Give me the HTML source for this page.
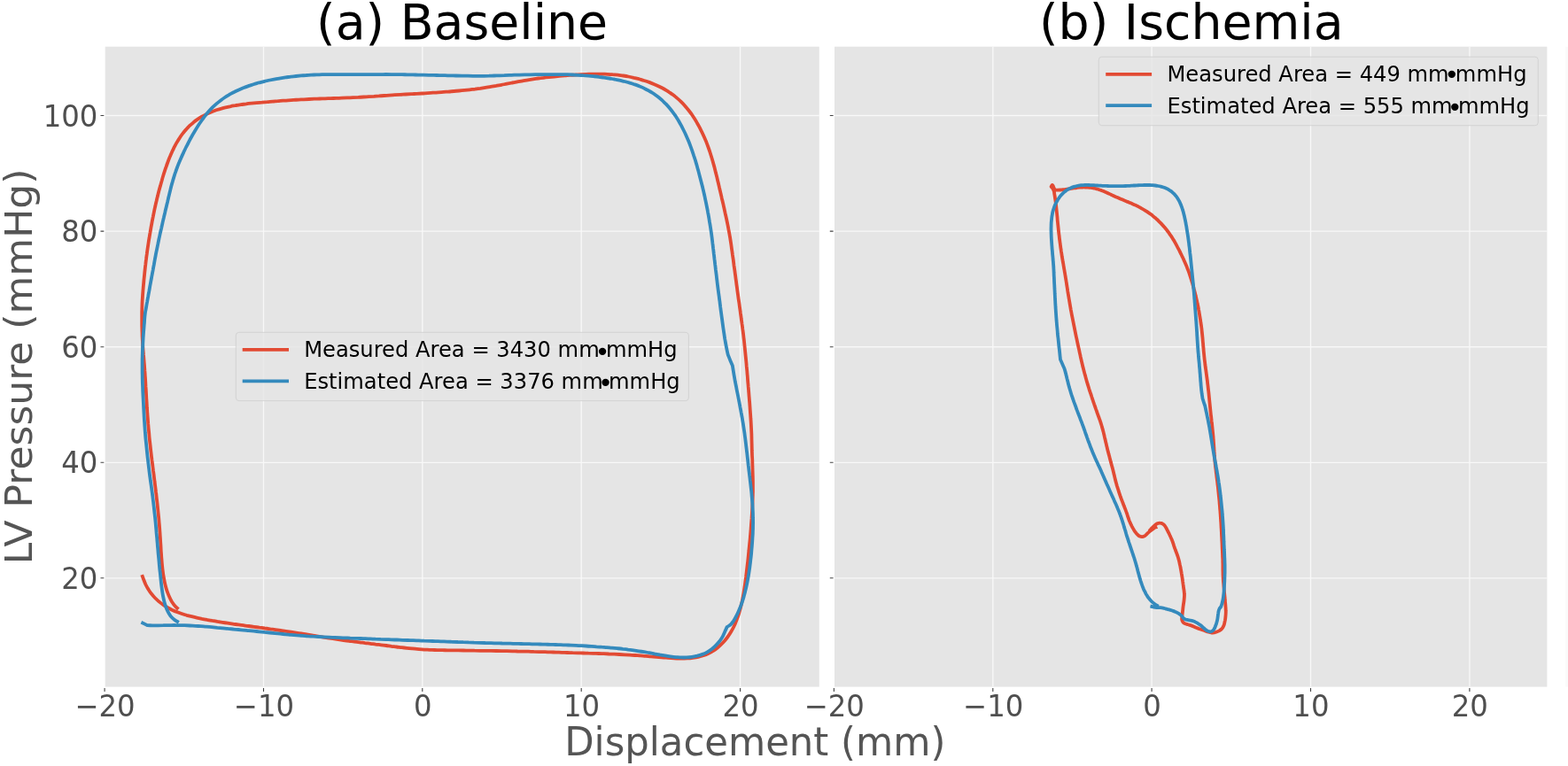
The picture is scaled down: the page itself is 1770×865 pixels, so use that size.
<!DOCTYPE html>
<html lang="en">
<head>
<meta charset="utf-8">
<title>LV pressure-displacement loops</title>
<style>
html,body{margin:0;padding:0;background:#fff;}
body{width:1770px;height:865px;overflow:hidden;}
svg{display:block;}
text{font-family:"DejaVu Sans","Liberation Sans",sans-serif;}
.tk{font-size:34.2px;fill:#4f4f4f;}
.lg{font-size:24.2px;fill:#000;}
.tt{font-size:55.3px;fill:#000;}
.lb{font-size:43.3px;fill:#555;}
</style>
</head>
<body>
<svg width="1770" height="865" viewBox="0 0 1770 865">
<rect width="1770" height="865" fill="#fff"/>
<rect x="1767.3" y="52.7" width="2.7" height="722.9" fill="#fafafa"/>
<rect x="118.7" y="52.7" width="806.1" height="722.9" fill="#E5E5E5"/>
<path d="M297.5 52.7V775.6M476.8 52.7V775.6M656.2 52.7V775.6M835.6 52.7V775.6M118.7 652.8H924.8M118.7 522.3H924.8M118.7 391.7H924.8M118.7 261.1H924.8M118.7 130.5H924.8" stroke="#f8f8f8" stroke-width="1.35" fill="none"/>
<path d="M118.1 777.1v3.8M297.5 777.1v3.8M476.8 777.1v3.8M656.2 777.1v3.8M835.6 777.1v3.8M117.3 652.8h-3.8M117.3 522.3h-3.8M117.3 391.7h-3.8M117.3 261.1h-3.8M117.3 130.5h-3.8" stroke="#444" stroke-width="1.1" fill="none"/>
<text class="tk" transform="translate(118.5 809.0) scale(0.945 1)" text-anchor="middle">−20</text>
<text class="tk" transform="translate(297.9 809.0) scale(0.945 1)" text-anchor="middle">−10</text>
<text class="tk" transform="translate(477.2 809.0) scale(0.945 1)" text-anchor="middle">0</text>
<text class="tk" transform="translate(656.6 809.0) scale(0.945 1)" text-anchor="middle">10</text>
<text class="tk" transform="translate(836.0 809.0) scale(0.945 1)" text-anchor="middle">20</text>
<text class="tk" transform="translate(110.4 664.9) scale(0.945 1)" text-anchor="end">20</text>
<text class="tk" transform="translate(110.4 534.4) scale(0.945 1)" text-anchor="end">40</text>
<text class="tk" transform="translate(110.4 403.8) scale(0.945 1)" text-anchor="end">60</text>
<text class="tk" transform="translate(110.4 273.2) scale(0.945 1)" text-anchor="end">80</text>
<text class="tk" transform="translate(110.4 142.6) scale(0.945 1)" text-anchor="end">100</text>
<rect x="942.0" y="52.7" width="804.4" height="722.9" fill="#E5E5E5"/>
<path d="M1120.8 52.7V775.6M1300.1 52.7V775.6M1479.5 52.7V775.6M1658.9 52.7V775.6M942.0 652.8H1746.4M942.0 522.3H1746.4M942.0 391.7H1746.4M942.0 261.1H1746.4M942.0 130.5H1746.4" stroke="#f8f8f8" stroke-width="1.35" fill="none"/>
<path d="M941.4 777.1v3.8M1120.8 777.1v3.8M1300.1 777.1v3.8M1479.5 777.1v3.8M1658.9 777.1v3.8M940.6 652.8h-3.8M940.6 522.3h-3.8M940.6 391.7h-3.8M940.6 261.1h-3.8M940.6 130.5h-3.8" stroke="#444" stroke-width="1.1" fill="none"/>
<text class="tk" transform="translate(941.8 809.0) scale(0.945 1)" text-anchor="middle">−20</text>
<text class="tk" transform="translate(1121.2 809.0) scale(0.945 1)" text-anchor="middle">−10</text>
<text class="tk" transform="translate(1300.5 809.0) scale(0.945 1)" text-anchor="middle">0</text>
<text class="tk" transform="translate(1479.9 809.0) scale(0.945 1)" text-anchor="middle">10</text>
<text class="tk" transform="translate(1659.3 809.0) scale(0.945 1)" text-anchor="middle">20</text>
<path d="M160.2 649.1C160.5 650.0 161.4 652.4 162.1 654.3C162.8 656.1 163.6 658.2 164.4 660.0C165.3 661.9 166.3 663.7 167.4 665.4C168.4 667.2 169.6 668.9 170.9 670.4C172.1 672.0 173.4 673.6 174.8 675.0C176.2 676.4 177.7 677.8 179.2 679.1C180.7 680.4 182.3 681.6 183.9 682.7C185.5 683.9 187.2 684.9 188.9 685.9C190.6 686.9 192.3 687.8 194.1 688.7C195.9 689.5 197.7 690.3 199.5 691.0C201.3 691.7 203.2 692.4 205.0 693.0C206.9 693.7 208.8 694.2 210.7 694.8C212.6 695.3 214.5 695.8 216.4 696.2C218.3 696.7 220.3 697.2 222.2 697.6C224.1 698.0 226.0 698.4 228.0 698.8C229.9 699.1 231.8 699.5 233.7 699.9C235.6 700.2 237.6 700.5 239.5 700.9C241.4 701.2 243.3 701.5 245.3 701.9C247.2 702.2 249.2 702.5 251.1 702.8C253.1 703.1 255.0 703.4 257.0 703.7C259.0 704.0 260.9 704.3 262.9 704.6C264.9 704.9 266.9 705.1 268.9 705.4C270.9 705.7 272.9 706.0 274.9 706.2C276.9 706.5 278.8 706.8 280.8 707.0C282.8 707.3 284.8 707.6 286.8 707.8C288.8 708.1 290.8 708.4 292.8 708.7C294.8 708.9 296.8 709.2 298.8 709.5C300.8 709.7 302.8 710.0 304.8 710.3C306.8 710.6 308.8 710.8 310.7 711.1C312.7 711.4 314.7 711.7 316.7 712.0C318.7 712.3 320.6 712.5 322.6 712.8C324.6 713.1 326.6 713.4 328.5 713.7C330.5 714.0 332.5 714.3 334.4 714.6C336.4 714.9 338.3 715.2 340.3 715.5C342.2 715.8 344.1 716.2 346.1 716.5C348.0 716.8 349.9 717.1 351.9 717.4C353.8 717.7 355.8 718.1 357.7 718.4C359.7 718.7 361.7 719.0 363.6 719.3C365.6 719.6 367.6 720.0 369.6 720.3C371.6 720.6 373.6 720.9 375.7 721.2C377.7 721.5 379.7 721.8 381.8 722.1C383.8 722.4 385.9 722.7 387.9 723.0C389.9 723.3 392.0 723.6 394.0 723.8C396.0 724.1 398.0 724.3 400.0 724.6C402.1 724.9 404.1 725.1 406.1 725.3C408.1 725.6 410.1 725.8 412.1 726.1C414.1 726.3 416.1 726.6 418.1 726.8C420.1 727.1 422.1 727.3 424.1 727.6C426.2 727.8 428.2 728.1 430.2 728.3C432.2 728.6 434.1 728.8 436.1 729.0C438.0 729.3 440.0 729.5 441.9 729.8C443.8 730.0 445.7 730.3 447.7 730.5C449.6 730.7 451.5 731.0 453.4 731.2C455.3 731.4 457.3 731.6 459.2 731.8C461.1 732.0 463.0 732.2 464.9 732.4C466.9 732.6 468.8 732.8 470.7 732.9C472.6 733.1 474.5 733.2 476.4 733.3C478.4 733.5 480.3 733.6 482.2 733.7C484.0 733.8 485.9 733.8 487.8 733.9C489.7 734.0 491.6 734.0 493.5 734.1C495.4 734.1 497.3 734.2 499.3 734.2C501.2 734.2 503.1 734.3 505.1 734.3C507.0 734.3 509.0 734.3 511.0 734.4C513.0 734.4 515.0 734.4 517.1 734.4C519.1 734.5 521.2 734.5 523.2 734.5C525.3 734.5 527.4 734.6 529.5 734.6C531.5 734.6 533.6 734.6 535.7 734.7C537.8 734.7 539.8 734.7 541.9 734.8C544.0 734.8 546.1 734.8 548.1 734.8C550.2 734.9 552.2 734.9 554.2 734.9C556.3 735.0 558.3 735.0 560.3 735.0C562.3 735.1 564.3 735.1 566.3 735.1C568.3 735.2 570.4 735.2 572.4 735.2C574.4 735.3 576.3 735.3 578.3 735.3C580.3 735.4 582.2 735.4 584.2 735.5C586.3 735.5 588.3 735.6 590.3 735.6C592.4 735.6 594.4 735.7 596.4 735.7C598.5 735.8 600.5 735.8 602.6 735.9C604.6 735.9 606.7 736.0 608.8 736.1C610.9 736.1 613.0 736.2 615.1 736.2C617.2 736.3 619.3 736.3 621.5 736.4C623.6 736.5 625.7 736.5 627.8 736.6C629.9 736.7 632.0 736.7 634.1 736.8C636.2 736.9 638.3 736.9 640.3 737.0C642.4 737.1 644.4 737.1 646.4 737.2C648.5 737.2 650.5 737.3 652.5 737.4C654.5 737.4 656.4 737.5 658.4 737.5C660.3 737.6 662.3 737.6 664.2 737.7C666.2 737.7 668.1 737.8 670.0 737.9C672.0 737.9 673.9 738.0 675.8 738.0C677.7 738.1 679.6 738.2 681.6 738.2C683.5 738.3 685.4 738.4 687.4 738.5C689.3 738.5 691.3 738.6 693.3 738.7C695.2 738.8 697.2 738.9 699.2 739.0C701.2 739.1 703.2 739.2 705.1 739.3C707.1 739.4 709.1 739.5 711.1 739.6C713.1 739.8 715.1 739.9 717.0 740.0C719.0 740.1 721.0 740.3 723.0 740.4C724.9 740.5 726.9 740.7 728.9 740.8C730.9 741.0 732.9 741.1 734.9 741.3C736.9 741.4 738.9 741.6 740.9 741.8C742.9 741.9 745.0 742.1 746.8 742.3C748.6 742.4 749.9 742.6 751.7 742.7C753.6 742.8 755.7 743.0 757.8 743.2C759.8 743.3 761.8 743.4 763.8 743.5C765.8 743.6 767.9 743.6 769.9 743.6C771.9 743.6 774.0 743.5 776.0 743.4C778.1 743.3 780.1 743.1 782.1 742.8C784.1 742.5 786.1 742.2 788.1 741.8C790.1 741.3 792.0 740.8 793.9 740.2C795.8 739.6 797.7 738.9 799.5 738.0C801.3 737.2 803.1 736.2 804.8 735.2C806.4 734.1 808.1 732.9 809.6 731.7C811.2 730.4 812.7 729.1 814.1 727.7C815.6 726.3 817.0 724.8 818.3 723.3C819.6 721.7 820.9 720.1 822.0 718.4C823.2 716.8 824.3 715.0 825.3 713.3C826.3 711.6 827.3 709.8 828.2 708.0C829.1 706.2 829.9 704.3 830.6 702.5C831.4 700.7 832.1 698.8 832.7 697.0C833.4 695.1 834.0 693.3 834.5 691.4C835.1 689.6 835.6 687.7 836.1 685.8C836.6 683.9 837.0 682.1 837.4 680.2C837.8 678.3 838.2 676.4 838.6 674.5C838.9 672.6 839.3 670.6 839.6 668.7C839.9 666.8 840.2 664.9 840.5 662.9C840.8 661.0 841.1 659.0 841.3 657.1C841.6 655.1 841.8 653.2 842.1 651.2C842.3 649.2 842.6 647.3 842.8 645.3C843.0 643.3 843.3 641.3 843.5 639.3C843.7 637.3 844.0 635.3 844.2 633.4C844.4 631.4 844.6 629.4 844.8 627.4C845.0 625.4 845.2 623.4 845.4 621.4C845.6 619.4 845.8 617.4 846.0 615.5C846.2 613.5 846.4 611.5 846.6 609.5C846.8 607.5 846.9 605.6 847.1 603.6C847.3 601.6 847.4 599.6 847.6 597.6C847.7 595.6 847.9 593.7 848.0 591.7C848.2 589.7 848.3 587.7 848.5 585.7C848.6 583.7 848.8 581.7 848.9 579.7C849.0 577.8 849.1 575.8 849.2 573.8C849.3 571.8 849.4 569.8 849.5 567.8C849.6 565.8 849.7 563.8 849.7 561.8C849.8 559.9 849.8 557.9 849.9 555.9C849.9 553.9 849.9 551.9 849.9 549.9C849.9 547.9 849.9 546.0 849.9 544.0C849.9 542.0 849.8 540.0 849.8 538.0C849.7 536.1 849.7 534.1 849.6 532.1C849.6 530.1 849.5 528.1 849.4 526.2C849.4 524.2 849.3 522.2 849.3 520.2C849.2 518.3 849.1 516.3 849.0 514.3C849.0 512.4 848.9 510.4 848.8 508.4C848.8 506.5 848.7 504.5 848.7 502.5C848.6 500.5 848.6 498.5 848.5 496.5C848.5 494.5 848.4 492.5 848.4 490.5C848.3 488.5 848.2 486.5 848.1 484.5C848.0 482.5 847.9 480.5 847.8 478.5C847.7 476.5 847.6 474.5 847.4 472.5C847.3 470.5 847.2 468.6 847.0 466.6C846.9 464.6 846.7 462.6 846.6 460.6C846.5 458.7 846.3 456.7 846.2 454.7C846.0 452.7 845.8 450.7 845.7 448.8C845.5 446.8 845.4 444.8 845.2 442.8C845.1 440.8 844.9 438.9 844.7 436.9C844.6 434.9 844.4 432.9 844.2 431.0C844.1 429.0 843.9 427.0 843.8 425.0C843.6 423.1 843.4 421.1 843.3 419.1C843.1 417.1 842.9 415.2 842.7 413.2C842.6 411.2 842.4 409.2 842.2 407.3C842.0 405.3 841.8 403.3 841.6 401.3C841.4 399.3 841.2 397.3 841.0 395.3C840.8 393.3 840.6 391.4 840.4 389.4C840.2 387.4 840.0 385.4 839.8 383.4C839.5 381.4 839.3 379.4 839.1 377.4C838.8 375.4 838.6 373.4 838.3 371.5C838.1 369.5 837.8 367.5 837.5 365.5C837.3 363.6 837.0 361.6 836.7 359.6C836.5 357.6 836.2 355.7 835.9 353.7C835.7 351.7 835.4 349.8 835.1 347.8C834.8 345.8 834.6 343.8 834.3 341.8C834.0 339.8 833.7 337.9 833.4 335.9C833.2 333.9 832.9 331.9 832.6 329.9C832.3 327.9 832.1 325.9 831.8 323.9C831.5 321.9 831.2 319.8 831.0 317.8C830.7 315.8 830.4 313.8 830.2 311.8C829.9 309.8 829.6 307.8 829.4 305.8C829.1 303.8 828.8 301.7 828.5 299.7C828.3 297.7 828.0 295.7 827.8 293.8C827.5 291.8 827.2 289.8 826.9 287.8C826.7 285.9 826.4 283.9 826.1 282.0C825.8 280.0 825.6 278.0 825.3 276.0C825.0 274.1 824.7 272.1 824.4 270.1C824.1 268.1 823.7 266.2 823.4 264.3C823.1 262.3 822.7 260.4 822.3 258.4C822.0 256.5 821.6 254.6 821.2 252.6C820.8 250.7 820.4 248.8 820.0 246.9C819.6 245.0 819.2 243.1 818.7 241.2C818.3 239.3 817.9 237.4 817.5 235.5C817.0 233.5 816.6 231.6 816.2 229.7C815.7 227.8 815.3 225.8 814.8 223.9C814.4 221.9 813.9 220.0 813.5 218.1C813.0 216.1 812.6 214.2 812.1 212.2C811.7 210.3 811.2 208.4 810.8 206.4C810.3 204.5 809.8 202.6 809.4 200.6C808.9 198.7 808.4 196.8 807.9 194.8C807.5 192.9 807.0 191.0 806.5 189.0C806.0 187.1 805.4 185.2 804.9 183.3C804.4 181.3 803.8 179.4 803.2 177.5C802.6 175.6 802.0 173.7 801.4 171.8C800.8 169.8 800.1 167.9 799.4 166.0C798.7 164.1 798.0 162.2 797.3 160.3C796.5 158.4 795.7 156.6 794.9 154.7C794.1 152.9 793.3 151.1 792.4 149.3C791.5 147.5 790.6 145.7 789.7 143.9C788.8 142.2 787.8 140.4 786.8 138.7C785.8 136.9 784.8 135.2 783.7 133.5C782.6 131.8 781.5 130.2 780.4 128.5C779.2 126.9 778.0 125.3 776.7 123.7C775.5 122.2 774.2 120.7 772.9 119.2C771.6 117.7 770.2 116.3 768.8 114.9C767.4 113.5 766.0 112.2 764.4 110.9C762.9 109.6 761.3 108.3 759.7 107.1C758.1 105.9 756.4 104.8 754.8 103.7C753.1 102.6 751.3 101.5 749.6 100.5C747.8 99.5 746.0 98.6 744.2 97.7C742.3 96.8 740.5 96.0 738.6 95.2C736.7 94.4 734.8 93.6 732.9 92.9C730.9 92.2 729.0 91.6 727.1 91.0C725.1 90.3 723.2 89.8 721.3 89.2C719.3 88.7 717.3 88.2 715.4 87.8C713.4 87.3 711.4 86.9 709.4 86.5C707.5 86.1 705.5 85.8 703.5 85.5C701.5 85.2 699.5 85.0 697.5 84.7C695.5 84.5 693.5 84.3 691.5 84.2C689.6 84.0 687.6 83.9 685.6 83.8C683.6 83.7 681.5 83.7 679.5 83.6C677.5 83.6 675.5 83.6 673.5 83.6C671.5 83.6 669.5 83.6 667.5 83.7C665.5 83.7 663.5 83.8 661.5 83.8C659.5 83.9 657.5 84.0 655.5 84.1C653.5 84.2 651.5 84.3 649.5 84.5C647.5 84.6 645.5 84.7 643.5 84.9C641.5 85.0 639.5 85.2 637.5 85.3C635.5 85.5 633.5 85.7 631.5 85.9C629.6 86.1 627.6 86.3 625.6 86.5C623.6 86.7 621.6 86.9 619.6 87.1C617.7 87.3 615.7 87.5 613.7 87.8C611.7 88.0 609.7 88.2 607.7 88.5C605.7 88.8 603.8 89.1 601.8 89.4C599.8 89.7 597.8 90.0 595.8 90.3C593.8 90.6 591.8 91.0 589.9 91.3C587.9 91.7 585.9 92.0 583.9 92.4C581.9 92.8 579.9 93.2 578.0 93.5C576.0 93.9 574.0 94.3 572.1 94.7C570.1 95.1 568.1 95.4 566.1 95.8C564.1 96.2 562.1 96.5 560.1 96.9C558.1 97.2 556.1 97.6 554.1 97.9C552.1 98.2 550.1 98.6 548.1 98.9C546.1 99.2 544.2 99.5 542.2 99.8C540.2 100.0 538.2 100.3 536.2 100.6C534.2 100.8 532.2 101.1 530.2 101.3C528.3 101.5 526.3 101.7 524.3 101.9C522.3 102.1 520.3 102.3 518.3 102.5C516.4 102.7 514.4 102.9 512.4 103.0C510.5 103.2 508.5 103.3 506.6 103.5C504.6 103.6 502.6 103.8 500.7 103.9C498.7 104.1 496.7 104.2 494.7 104.3C492.7 104.5 490.7 104.6 488.7 104.7C486.7 104.9 484.7 105.0 482.7 105.1C480.7 105.2 478.6 105.4 476.6 105.5C474.5 105.6 472.4 105.7 470.3 105.8C468.3 105.9 466.2 106.1 464.1 106.2C462.1 106.3 460.0 106.4 457.9 106.5C455.8 106.6 453.8 106.8 451.7 106.9C449.6 107.0 447.6 107.1 445.6 107.2C443.5 107.4 441.5 107.5 439.5 107.6C437.5 107.7 435.5 107.9 433.6 108.0C431.7 108.1 429.8 108.2 427.8 108.4C425.9 108.5 424.0 108.6 422.1 108.8C420.1 108.9 418.1 109.0 416.2 109.1C414.2 109.3 412.3 109.4 410.4 109.5C408.4 109.6 406.4 109.7 404.4 109.9C402.4 110.0 400.4 110.1 398.4 110.2C396.3 110.3 394.3 110.3 392.2 110.4C390.1 110.5 388.0 110.6 385.9 110.7C383.8 110.8 381.7 110.8 379.6 110.9C377.5 111.0 375.4 111.0 373.3 111.1C371.2 111.2 369.1 111.2 367.1 111.3C365.0 111.4 362.9 111.4 360.9 111.5C358.8 111.6 356.8 111.6 354.8 111.7C352.8 111.8 350.8 111.9 348.8 112.0C346.8 112.1 344.8 112.2 342.9 112.3C340.9 112.4 339.0 112.5 337.0 112.6C335.1 112.7 333.1 112.8 331.2 112.9C329.2 113.1 327.3 113.2 325.3 113.3C323.4 113.5 321.5 113.6 319.5 113.7C317.6 113.9 315.6 114.0 313.6 114.2C311.6 114.3 309.7 114.5 307.7 114.6C305.7 114.8 303.7 114.9 301.7 115.1C299.7 115.2 297.7 115.4 295.7 115.6C293.7 115.7 291.7 115.9 289.7 116.1C287.8 116.3 285.8 116.5 283.8 116.7C281.8 116.9 279.9 117.1 277.9 117.4C276.0 117.6 273.9 117.9 272.0 118.1C270.0 118.4 268.2 118.7 266.2 119.0C264.3 119.4 262.2 119.7 260.5 120.1C258.7 120.4 257.4 120.7 255.7 121.1C253.9 121.5 251.8 122.0 249.9 122.6C248.0 123.1 246.1 123.7 244.2 124.3C242.3 125.0 240.4 125.7 238.5 126.5C236.7 127.2 234.8 128.0 233.1 128.9C231.3 129.8 229.5 130.7 227.8 131.7C226.1 132.7 224.4 133.8 222.8 134.9C221.2 136.0 219.7 137.1 218.2 138.4C216.7 139.6 215.2 140.9 213.8 142.2C212.5 143.6 211.1 145.0 209.9 146.4C208.6 147.8 207.4 149.3 206.2 150.9C205.0 152.4 203.9 154.0 202.9 155.6C201.8 157.2 200.8 158.9 199.8 160.6C198.8 162.2 197.9 164.0 197.0 165.7C196.1 167.4 195.3 169.2 194.4 170.9C193.6 172.7 192.8 174.5 192.1 176.3C191.3 178.1 190.6 179.9 189.9 181.7C189.2 183.6 188.6 185.4 187.9 187.3C187.3 189.1 186.6 191.0 186.0 192.9C185.4 194.7 184.8 196.6 184.2 198.5C183.6 200.4 183.1 202.3 182.6 204.2C182.0 206.1 181.5 208.0 181.0 209.9C180.4 211.8 179.9 213.7 179.4 215.6C178.9 217.5 178.4 219.4 178.0 221.3C177.5 223.2 177.0 225.1 176.6 227.0C176.1 228.9 175.7 230.9 175.3 232.8C174.8 234.7 174.4 236.7 174.0 238.7C173.6 240.6 173.2 242.6 172.8 244.6C172.4 246.6 172.0 248.6 171.6 250.6C171.3 252.6 170.9 254.6 170.5 256.6C170.2 258.6 169.8 260.6 169.5 262.6C169.1 264.7 168.8 266.7 168.5 268.7C168.1 270.7 167.8 272.7 167.5 274.7C167.2 276.7 166.9 278.8 166.6 280.8C166.3 282.8 166.0 284.8 165.8 286.8C165.5 288.8 165.2 290.8 165.0 292.8C164.7 294.8 164.5 296.8 164.3 298.8C164.0 300.8 163.8 302.8 163.6 304.8C163.4 306.8 163.2 308.7 163.0 310.7C162.8 312.7 162.6 314.6 162.4 316.6C162.3 318.5 162.1 320.5 161.9 322.4C161.7 324.4 161.6 326.4 161.4 328.3C161.3 330.3 161.1 332.2 161.0 334.2C160.9 336.2 160.7 338.2 160.6 340.2C160.5 342.1 160.4 344.1 160.4 346.2C160.3 348.2 160.3 350.2 160.2 352.2C160.2 354.2 160.2 356.3 160.2 358.3C160.2 360.3 160.2 362.3 160.2 364.3C160.2 366.3 160.2 368.3 160.3 370.3C160.3 372.4 160.4 374.4 160.5 376.4C160.5 378.4 160.6 380.5 160.7 382.5C160.9 384.5 161.0 386.6 161.1 388.6C161.2 390.6 161.4 392.6 161.5 394.6C161.7 396.7 161.9 398.7 162.0 400.7C162.2 402.7 162.3 404.7 162.5 406.7C162.6 408.7 162.8 410.7 163.0 412.7C163.1 414.7 163.3 416.7 163.4 418.7C163.6 420.7 163.7 422.6 163.8 424.6C164.0 426.5 164.1 428.5 164.2 430.5C164.3 432.4 164.4 434.4 164.5 436.4C164.7 438.4 164.8 440.4 164.9 442.4C165.0 444.4 165.1 446.4 165.2 448.4C165.3 450.4 165.5 452.4 165.6 454.4C165.7 456.4 165.8 458.4 165.9 460.3C166.1 462.3 166.2 464.3 166.3 466.3C166.5 468.3 166.6 470.2 166.8 472.2C166.9 474.2 167.1 476.2 167.2 478.2C167.4 480.1 167.5 482.1 167.7 484.1C167.9 486.1 168.1 488.0 168.3 490.0C168.4 492.0 168.6 494.0 168.8 495.9C169.0 497.9 169.3 499.9 169.5 501.9C169.7 503.8 169.9 505.8 170.1 507.8C170.3 509.8 170.6 511.7 170.8 513.7C171.0 515.7 171.3 517.7 171.5 519.7C171.8 521.6 172.0 523.6 172.3 525.6C172.5 527.6 172.8 529.5 173.0 531.5C173.3 533.4 173.5 535.4 173.8 537.4C174.0 539.4 174.3 541.4 174.5 543.4C174.8 545.4 175.0 547.4 175.3 549.5C175.5 551.5 175.8 553.5 176.0 555.5C176.3 557.5 176.5 559.5 176.7 561.5C176.9 563.5 177.2 565.4 177.4 567.4C177.6 569.3 177.8 571.3 178.0 573.2C178.2 575.2 178.4 577.2 178.6 579.1C178.8 581.1 179.0 583.0 179.2 585.0C179.4 587.0 179.5 589.0 179.7 590.9C179.9 592.9 180.0 594.9 180.2 596.9C180.3 598.9 180.5 600.9 180.6 602.9C180.7 604.9 180.9 606.9 181.0 608.9C181.1 610.9 181.2 612.9 181.4 614.9C181.5 616.9 181.6 618.9 181.7 620.9C181.8 622.9 182.0 624.9 182.1 626.9C182.2 628.9 182.4 631.0 182.6 633.0C182.7 635.0 182.9 637.0 183.1 639.1C183.3 641.1 183.5 643.1 183.8 645.1C184.0 647.1 184.3 649.2 184.7 651.1C185.0 653.1 185.4 655.1 185.8 657.1C186.2 659.1 186.7 661.0 187.2 663.0C187.7 664.9 188.3 666.8 189.0 668.6C189.7 670.5 190.4 672.3 191.3 674.2C192.1 676.0 193.0 677.8 194.0 679.5C195.1 681.2 196.2 682.9 197.5 684.3C198.7 685.7 200.8 687.3 201.5 687.9" stroke="#E24A33" fill="none" stroke-width="3.8" stroke-linejoin="round" stroke-linecap="butt"/>
<path d="M159.4 702.8C160.5 703.3 165.1 705.5 166.2 706.1C167.2 706.1 169.9 706.3 171.9 706.4C173.9 706.4 176.1 706.3 178.2 706.3C180.3 706.2 182.3 706.2 184.3 706.2C186.4 706.1 188.4 706.1 190.4 706.1C192.4 706.1 194.4 706.0 196.4 706.0C198.4 706.0 200.4 706.1 202.4 706.1C204.4 706.1 206.4 706.2 208.4 706.2C210.5 706.3 212.5 706.4 214.5 706.5C216.6 706.6 218.6 706.7 220.7 706.8C222.7 706.9 224.8 707.1 226.8 707.2C228.9 707.4 230.9 707.5 233.0 707.7C235.0 707.9 237.1 708.1 239.1 708.2C241.2 708.4 243.2 708.6 245.2 708.8C247.3 709.0 249.3 709.2 251.3 709.4C253.3 709.6 255.3 709.8 257.3 709.9C259.3 710.1 261.3 710.3 263.2 710.5C265.2 710.7 267.1 710.9 269.1 711.0C271.1 711.2 273.0 711.4 275.0 711.6C276.9 711.8 278.9 711.9 280.9 712.1C282.8 712.3 284.8 712.5 286.8 712.7C288.7 712.9 290.7 713.1 292.6 713.3C294.6 713.5 296.6 713.7 298.5 713.9C300.5 714.1 302.5 714.3 304.4 714.5C306.4 714.7 308.4 714.9 310.4 715.1C312.3 715.3 314.3 715.5 316.4 715.7C318.4 715.9 320.4 716.1 322.4 716.3C324.5 716.5 326.5 716.6 328.6 716.8C330.7 717.0 332.8 717.2 334.9 717.4C337.0 717.5 339.2 717.7 341.3 717.8C343.4 718.0 345.6 718.1 347.6 718.3C349.7 718.4 351.7 718.5 353.7 718.7C355.7 718.8 357.7 718.9 359.7 719.0C361.7 719.1 363.7 719.2 365.6 719.3C367.6 719.4 369.6 719.5 371.6 719.6C373.6 719.7 375.7 719.8 377.7 719.8C379.6 719.9 381.6 720.0 383.6 720.1C385.6 720.2 387.5 720.3 389.5 720.3C391.4 720.4 393.4 720.5 395.3 720.6C397.2 720.6 399.1 720.7 401.0 720.8C402.9 720.9 404.8 720.9 406.7 721.0C408.6 721.1 410.4 721.2 412.3 721.2C414.2 721.3 416.1 721.4 418.0 721.4C419.9 721.5 421.9 721.6 423.8 721.7C425.8 721.7 427.7 721.8 429.7 721.9C431.7 721.9 433.7 722.0 435.7 722.1C437.7 722.2 439.8 722.2 441.8 722.3C443.9 722.4 445.9 722.5 448.0 722.5C450.0 722.6 452.1 722.7 454.1 722.8C456.2 722.8 458.3 722.9 460.3 723.0C462.4 723.1 464.4 723.1 466.5 723.2C468.5 723.3 470.6 723.4 472.6 723.4C474.7 723.5 476.7 723.6 478.8 723.7C480.9 723.7 483.0 723.8 485.1 723.9C487.2 724.0 489.3 724.0 491.4 724.1C493.5 724.2 495.4 724.2 497.6 724.3C499.8 724.4 502.5 724.5 504.7 724.6C506.9 724.6 508.8 724.7 510.8 724.8C512.8 724.8 514.8 724.9 516.8 725.0C518.8 725.0 520.8 725.1 522.9 725.2C524.9 725.2 526.9 725.3 529.0 725.4C531.0 725.4 533.1 725.5 535.1 725.6C537.2 725.6 539.3 725.7 541.4 725.8C543.5 725.8 545.6 725.9 547.7 726.0C549.8 726.0 552.0 726.1 554.1 726.1C556.3 726.2 558.4 726.3 560.5 726.3C562.6 726.4 564.7 726.4 566.8 726.5C568.9 726.5 570.9 726.6 573.0 726.6C575.0 726.7 577.0 726.7 579.1 726.8C581.1 726.8 583.1 726.9 585.2 726.9C587.2 727.0 589.3 727.0 591.3 727.1C593.4 727.1 595.5 727.2 597.5 727.2C599.5 727.3 601.6 727.3 603.6 727.4C605.6 727.4 607.6 727.5 609.6 727.5C611.5 727.6 613.5 727.6 615.5 727.7C617.5 727.7 619.4 727.8 621.4 727.8C623.3 727.9 625.2 727.9 627.2 728.0C629.1 728.1 631.0 728.1 633.0 728.2C634.9 728.3 636.8 728.3 638.8 728.4C640.7 728.5 642.6 728.5 644.5 728.6C646.5 728.7 648.4 728.8 650.3 728.9C652.2 729.0 654.2 729.1 656.1 729.2C658.0 729.3 659.9 729.4 661.8 729.5C663.8 729.7 665.7 729.8 667.6 729.9C669.5 730.0 671.5 730.1 673.4 730.3C675.3 730.4 677.2 730.5 679.2 730.7C681.1 730.8 683.0 731.0 685.0 731.1C686.9 731.3 688.9 731.4 690.8 731.6C692.8 731.8 694.9 732.0 696.9 732.2C698.9 732.4 701.0 732.6 703.0 732.9C705.1 733.1 707.1 733.3 709.1 733.6C711.1 733.8 713.1 734.1 715.1 734.4C717.1 734.7 719.1 735.0 721.1 735.3C723.1 735.6 725.0 735.9 727.0 736.2C729.0 736.5 731.0 736.9 732.9 737.2C734.9 737.5 736.9 737.9 738.9 738.3C740.8 738.6 742.8 739.0 744.8 739.4C746.7 739.7 748.7 740.1 750.7 740.4C752.7 740.8 754.8 741.1 756.8 741.3C758.8 741.6 760.9 741.9 762.9 742.1C764.9 742.2 766.9 742.4 769.0 742.4C771.0 742.5 773.0 742.5 775.0 742.4C777.0 742.3 779.0 742.1 781.0 741.8C783.0 741.5 785.0 741.1 787.0 740.7C788.9 740.2 790.9 739.6 792.8 738.9C794.7 738.2 796.6 737.3 798.4 736.3C800.2 735.3 801.8 734.2 803.4 733.0C805.0 731.7 806.5 730.4 808.0 728.9C809.4 727.5 810.8 725.9 812.1 724.3C813.3 722.7 814.6 720.9 815.6 719.1C816.6 717.3 817.4 715.2 818.2 713.4C819.1 711.6 820.2 709.0 820.6 708.1C821.3 707.6 824.0 705.9 824.7 705.4C825.3 704.7 827.0 702.7 828.1 701.1C829.1 699.5 830.1 697.7 831.0 695.9C832.0 694.1 832.8 692.3 833.6 690.5C834.4 688.7 835.2 686.8 835.9 685.0C836.6 683.1 837.3 681.3 837.9 679.4C838.6 677.5 839.1 675.6 839.7 673.6C840.2 671.7 840.8 669.8 841.2 667.8C841.7 665.9 842.2 664.0 842.6 662.0C843.0 660.0 843.4 658.1 843.8 656.1C844.2 654.1 844.5 652.2 844.9 650.2C845.2 648.2 845.5 646.2 845.8 644.2C846.1 642.3 846.4 640.3 846.6 638.3C846.9 636.3 847.1 634.3 847.3 632.3C847.6 630.4 847.8 628.4 848.0 626.4C848.2 624.4 848.3 622.4 848.5 620.4C848.7 618.4 848.9 616.5 849.0 614.5C849.2 612.5 849.3 610.5 849.4 608.5C849.5 606.6 849.7 604.6 849.8 602.6C849.8 600.6 849.9 598.6 850.0 596.6C850.0 594.6 850.0 592.7 850.1 590.7C850.1 588.7 850.1 586.7 850.0 584.7C850.0 582.7 850.0 580.7 849.9 578.7C849.8 576.8 849.7 574.8 849.6 572.8C849.5 570.8 849.4 568.8 849.2 566.8C849.1 564.8 848.9 562.8 848.7 560.8C848.6 558.9 848.4 556.9 848.2 554.9C848.0 552.9 847.7 550.9 847.5 548.9C847.3 547.0 847.1 545.0 846.8 543.0C846.6 541.0 846.4 539.0 846.1 537.0C845.9 535.1 845.7 533.1 845.4 531.1C845.2 529.1 845.0 527.1 844.7 525.2C844.5 523.2 844.3 521.2 844.1 519.3C843.8 517.3 843.6 515.3 843.4 513.3C843.2 511.4 842.9 509.4 842.7 507.4C842.5 505.4 842.2 503.4 842.0 501.4C841.8 499.4 841.5 497.5 841.3 495.5C841.0 493.5 840.7 491.5 840.5 489.4C840.2 487.4 839.9 485.5 839.6 483.5C839.3 481.5 839.0 479.5 838.7 477.5C838.3 475.5 838.0 473.5 837.7 471.5C837.3 469.6 837.0 467.6 836.6 465.6C836.3 463.7 835.9 461.7 835.5 459.8C835.2 457.8 834.8 455.9 834.4 453.9C834.0 452.0 833.7 450.0 833.3 448.1C832.9 446.2 832.5 444.2 832.1 442.3C831.7 440.4 831.3 438.4 831.0 436.5C830.6 434.6 830.2 432.6 829.8 430.7C829.5 428.7 829.1 426.8 828.8 424.8C828.4 422.8 828.1 420.7 827.8 418.8C827.5 416.8 827.0 413.9 826.9 412.9C826.5 412.0 825.4 409.5 824.5 407.4C823.6 405.3 822.2 401.6 821.7 400.4C821.5 399.5 820.9 396.8 820.5 394.9C820.1 392.9 819.7 390.7 819.3 388.7C818.9 386.6 818.6 384.6 818.2 382.6C817.9 380.5 817.6 378.5 817.3 376.5C817.0 374.5 816.7 372.5 816.4 370.5C816.1 368.5 815.9 366.6 815.6 364.6C815.3 362.6 815.1 360.6 814.8 358.6C814.5 356.7 814.3 354.7 814.0 352.7C813.7 350.7 813.5 348.7 813.2 346.8C813.0 344.8 812.7 342.8 812.5 340.8C812.2 338.8 811.9 336.8 811.7 334.8C811.4 332.9 811.2 330.9 810.9 328.9C810.6 326.9 810.4 324.9 810.1 322.9C809.9 320.9 809.6 318.9 809.4 316.9C809.1 314.9 808.9 312.9 808.7 310.9C808.4 308.9 808.2 306.8 807.9 304.8C807.7 302.8 807.5 300.8 807.2 298.8C807.0 296.8 806.8 294.8 806.5 292.8C806.3 290.8 806.1 288.8 805.8 286.8C805.6 284.8 805.4 282.8 805.1 280.8C804.9 278.8 804.7 276.8 804.4 274.8C804.2 272.7 803.9 270.7 803.7 268.7C803.4 266.7 803.2 264.7 802.9 262.7C802.6 260.8 802.3 258.8 802.0 256.8C801.7 254.8 801.4 252.9 801.0 250.9C800.7 249.0 800.4 247.0 800.1 245.1C799.7 243.2 799.4 241.2 799.0 239.3C798.7 237.4 798.3 235.4 797.9 233.5C797.5 231.6 797.1 229.7 796.7 227.7C796.3 225.8 795.9 223.8 795.5 221.9C795.1 220.0 794.6 218.0 794.2 216.1C793.7 214.2 793.3 212.3 792.8 210.3C792.3 208.4 791.8 206.5 791.3 204.6C790.8 202.6 790.3 200.7 789.8 198.8C789.3 196.8 788.8 194.9 788.3 192.9C787.7 191.0 787.2 189.1 786.7 187.1C786.1 185.2 785.5 183.3 785.0 181.3C784.4 179.4 783.8 177.5 783.1 175.6C782.5 173.7 781.9 171.7 781.2 169.8C780.5 167.9 779.8 166.0 779.1 164.1C778.4 162.2 777.6 160.3 776.9 158.5C776.1 156.6 775.3 154.7 774.5 152.9C773.7 151.1 772.8 149.3 771.9 147.5C771.0 145.7 770.1 143.9 769.2 142.1C768.2 140.3 767.2 138.6 766.2 136.8C765.2 135.1 764.2 133.4 763.1 131.7C762.0 130.0 760.8 128.4 759.6 126.8C758.4 125.2 757.1 123.6 755.8 122.0C754.5 120.4 753.1 118.9 751.7 117.4C750.2 116.0 748.8 114.6 747.3 113.2C745.8 111.8 744.2 110.5 742.7 109.3C741.1 108.1 739.5 106.9 737.9 105.8C736.2 104.7 734.6 103.6 732.8 102.7C731.1 101.7 729.3 100.7 727.5 99.9C725.8 99.0 724.0 98.2 722.1 97.5C720.3 96.7 718.4 96.0 716.5 95.4C714.7 94.7 712.8 94.1 710.9 93.6C709.0 93.0 707.0 92.5 705.1 92.0C703.2 91.6 701.2 91.1 699.3 90.7C697.4 90.3 695.4 89.9 693.5 89.5C691.6 89.2 689.6 88.8 687.7 88.5C685.8 88.2 683.8 87.9 681.9 87.6C680.0 87.4 678.0 87.1 676.1 86.9C674.1 86.6 672.1 86.4 670.2 86.2C668.2 86.0 666.3 85.8 664.3 85.7C662.3 85.5 660.3 85.3 658.3 85.2C656.4 85.0 654.4 84.9 652.4 84.8C650.4 84.7 648.4 84.6 646.4 84.5C644.4 84.4 642.4 84.3 640.4 84.2C638.4 84.2 636.5 84.2 634.5 84.1C632.6 84.1 630.7 84.2 628.7 84.2C626.8 84.2 624.7 84.2 622.7 84.1C620.7 84.1 618.7 84.1 616.7 84.1C614.6 84.1 612.6 84.1 610.5 84.1C608.5 84.2 606.4 84.2 604.4 84.2C602.4 84.2 600.3 84.2 598.3 84.3C596.3 84.3 594.3 84.4 592.3 84.4C590.3 84.4 588.3 84.5 586.4 84.6C584.4 84.6 582.5 84.7 580.6 84.7C578.7 84.8 576.8 84.9 574.9 84.9C573.0 85.0 571.1 85.1 569.2 85.2C567.3 85.2 565.5 85.3 563.6 85.4C561.7 85.4 559.8 85.5 557.9 85.5C555.9 85.6 554.0 85.6 552.0 85.7C550.1 85.7 548.1 85.7 546.1 85.8C544.2 85.8 542.2 85.8 540.2 85.8C538.2 85.8 536.2 85.8 534.1 85.8C532.1 85.8 530.1 85.8 528.0 85.7C526.0 85.7 524.1 85.7 521.8 85.6C519.6 85.6 516.9 85.6 514.6 85.5C512.4 85.5 510.5 85.4 508.4 85.4C506.4 85.3 504.3 85.3 502.2 85.2C500.1 85.2 498.0 85.1 496.0 85.1C493.9 85.0 491.9 85.0 489.9 84.9C487.9 84.9 486.0 84.9 484.0 84.8C482.0 84.8 480.1 84.8 478.1 84.7C476.1 84.7 474.1 84.6 472.1 84.6C470.1 84.5 468.2 84.5 466.1 84.4C464.1 84.4 462.1 84.3 460.0 84.3C458.0 84.3 455.9 84.2 453.9 84.2C451.8 84.2 449.7 84.1 447.7 84.1C445.6 84.1 443.6 84.1 441.6 84.1C439.6 84.0 437.5 84.0 435.5 84.0C433.5 84.0 431.4 84.1 429.4 84.1C427.4 84.1 425.5 84.1 423.5 84.1C421.5 84.1 419.5 84.1 417.5 84.1C415.5 84.2 413.6 84.2 411.6 84.2C409.6 84.2 407.6 84.2 405.6 84.2C403.6 84.2 401.6 84.2 399.7 84.2C397.7 84.2 395.7 84.1 393.7 84.1C391.7 84.1 389.7 84.1 387.7 84.1C385.7 84.1 383.7 84.1 381.7 84.1C379.6 84.1 377.6 84.1 375.6 84.1C373.5 84.1 371.5 84.1 369.5 84.1C367.5 84.2 365.5 84.2 363.5 84.2C361.5 84.3 359.5 84.3 357.5 84.4C355.5 84.5 353.5 84.5 351.5 84.6C349.6 84.7 347.6 84.8 345.7 85.0C343.7 85.1 341.8 85.2 339.9 85.4C337.9 85.6 336.0 85.8 334.1 86.0C332.2 86.2 330.2 86.4 328.3 86.6C326.3 86.9 324.4 87.1 322.4 87.4C320.5 87.7 318.5 88.0 316.5 88.3C314.5 88.6 312.6 89.0 310.6 89.3C308.6 89.7 306.6 90.1 304.6 90.5C302.6 90.9 300.6 91.4 298.7 91.8C296.7 92.3 294.7 92.8 292.7 93.3C290.8 93.9 288.7 94.4 286.8 95.0C284.8 95.6 282.9 96.3 281.0 96.9C279.1 97.6 277.1 98.3 275.2 99.1C273.4 99.8 271.5 100.6 269.6 101.4C267.8 102.2 265.9 103.1 264.2 104.0C262.4 104.9 260.6 105.9 258.9 106.8C257.2 107.8 255.5 108.9 253.8 110.0C252.2 111.0 250.6 112.2 249.0 113.4C247.4 114.6 245.9 115.8 244.4 117.1C242.9 118.4 241.4 119.8 240.0 121.2C238.6 122.6 237.2 124.1 235.9 125.6C234.6 127.1 233.3 128.6 232.0 130.2C230.8 131.8 229.6 133.4 228.4 135.0C227.2 136.7 226.1 138.3 224.9 140.0C223.8 141.7 222.7 143.4 221.7 145.1C220.6 146.9 219.6 148.6 218.5 150.4C217.5 152.2 216.5 153.9 215.5 155.7C214.6 157.5 213.6 159.3 212.7 161.1C211.8 162.9 210.8 164.7 209.9 166.5C209.0 168.3 208.2 170.1 207.3 171.9C206.5 173.7 205.6 175.5 204.8 177.4C204.0 179.2 203.2 181.0 202.5 182.8C201.7 184.6 201.0 186.5 200.3 188.3C199.6 190.2 198.9 192.0 198.3 193.9C197.6 195.7 197.0 197.6 196.5 199.4C195.9 201.3 195.3 203.2 194.8 205.1C194.2 207.0 193.7 208.9 193.2 210.8C192.7 212.7 192.3 214.6 191.8 216.5C191.3 218.4 190.9 220.3 190.4 222.2C190.0 224.2 189.5 226.1 189.1 228.0C188.6 229.9 188.1 231.9 187.7 233.8C187.2 235.8 186.7 237.7 186.3 239.7C185.8 241.7 185.3 243.7 184.9 245.7C184.4 247.6 184.0 249.6 183.5 251.6C183.1 253.6 182.6 255.6 182.2 257.6C181.7 259.6 181.3 261.5 180.8 263.5C180.4 265.5 180.0 267.5 179.5 269.5C179.1 271.4 178.7 273.4 178.3 275.4C177.9 277.4 177.5 279.3 177.1 281.3C176.7 283.2 176.3 285.2 175.9 287.1C175.6 289.1 175.2 291.1 174.8 293.0C174.5 295.0 174.1 296.9 173.8 298.9C173.4 300.8 173.0 302.8 172.7 304.8C172.3 306.7 172.0 308.7 171.6 310.6C171.2 312.6 170.9 314.6 170.5 316.5C170.2 318.5 169.8 320.5 169.4 322.5C169.1 324.4 168.7 326.4 168.4 328.4C168.0 330.4 167.6 332.4 167.3 334.4C166.9 336.4 166.5 338.4 166.2 340.5C165.8 342.5 165.4 344.7 165.1 346.6C164.8 348.5 164.3 350.9 164.1 351.8C164.0 352.8 163.6 355.7 163.4 357.7C163.2 359.7 163.1 361.8 163.0 363.8C162.8 365.8 162.6 367.9 162.5 369.9C162.3 371.9 162.2 373.9 162.0 375.9C161.9 377.9 161.7 379.9 161.6 381.9C161.5 383.9 161.4 385.9 161.3 387.9C161.2 389.8 161.1 391.8 161.0 393.8C160.9 395.8 160.8 397.8 160.8 399.7C160.7 401.7 160.7 403.7 160.6 405.7C160.6 407.6 160.6 409.6 160.6 411.6C160.6 413.6 160.6 415.5 160.6 417.5C160.6 419.5 160.6 421.5 160.7 423.5C160.7 425.4 160.7 427.4 160.8 429.4C160.8 431.4 160.9 433.4 161.0 435.4C161.1 437.4 161.2 439.4 161.2 441.4C161.3 443.4 161.4 445.4 161.5 447.4C161.6 449.4 161.7 451.4 161.8 453.4C161.9 455.4 162.0 457.4 162.1 459.3C162.2 461.3 162.3 463.3 162.4 465.3C162.5 467.3 162.6 469.2 162.7 471.2C162.8 473.2 162.9 475.2 163.1 477.2C163.2 479.1 163.3 481.1 163.5 483.1C163.6 485.1 163.8 487.0 163.9 489.0C164.1 491.0 164.2 493.0 164.4 495.0C164.6 496.9 164.8 498.9 165.0 500.9C165.2 502.9 165.4 504.8 165.6 506.8C165.8 508.8 166.0 510.7 166.2 512.7C166.4 514.7 166.6 516.7 166.9 518.7C167.1 520.6 167.3 522.6 167.6 524.6C167.8 526.6 168.0 528.5 168.3 530.5C168.5 532.5 168.8 534.4 169.0 536.4C169.3 538.4 169.6 540.4 169.8 542.4C170.1 544.4 170.4 546.4 170.7 548.4C171.0 550.5 171.2 552.5 171.5 554.5C171.8 556.5 172.0 558.5 172.3 560.5C172.5 562.5 172.8 564.4 173.0 566.4C173.2 568.4 173.4 570.3 173.7 572.3C173.9 574.2 174.1 576.2 174.3 578.1C174.6 580.1 174.8 582.1 175.0 584.0C175.2 586.0 175.4 588.0 175.6 590.0C175.8 592.0 175.9 593.9 176.1 595.9C176.3 597.9 176.5 599.9 176.6 601.9C176.8 603.9 177.0 605.9 177.2 607.9C177.3 609.9 177.5 611.9 177.7 613.9C177.8 615.9 178.0 617.9 178.2 619.9C178.4 621.9 178.5 623.9 178.7 625.9C178.9 627.9 179.1 629.9 179.3 631.9C179.5 633.9 179.7 635.9 179.8 637.9C180.0 639.9 180.2 641.9 180.4 644.0C180.7 646.0 180.9 648.0 181.1 650.0C181.3 652.1 181.5 654.1 181.7 656.1C181.9 658.1 182.1 660.2 182.4 662.2C182.7 664.2 182.9 666.2 183.2 668.1C183.5 670.1 183.8 672.1 184.2 674.0C184.6 675.9 185.0 677.8 185.5 679.7C186.0 681.6 186.5 683.5 187.2 685.3C187.9 687.2 188.6 689.0 189.5 690.7C190.4 692.5 191.4 694.2 192.6 695.7C193.9 697.2 195.3 698.5 196.8 699.7C198.3 700.9 201.0 702.3 201.8 702.8" stroke="#348ABD" fill="none" stroke-width="3.8" stroke-linejoin="round" stroke-linecap="butt"/>
<path d="M1297.3 599.6C1297.6 599.2 1298.7 598.2 1299.3 597.4C1300.0 596.7 1300.6 596.0 1301.3 595.3C1302.0 594.6 1302.7 593.8 1303.5 593.2C1304.3 592.5 1305.2 591.8 1306.2 591.3C1307.2 590.9 1308.4 590.6 1309.5 590.7C1310.6 590.7 1311.7 591.1 1312.6 591.7C1313.5 592.2 1314.3 593.0 1315.0 593.9C1315.6 594.7 1316.1 595.6 1316.6 596.5C1317.1 597.4 1317.5 598.3 1317.9 599.2C1318.4 600.1 1318.8 600.9 1319.3 601.8C1319.7 602.7 1320.2 603.7 1320.6 604.6C1321.1 605.5 1321.5 606.4 1321.9 607.4C1322.3 608.3 1322.7 609.3 1323.1 610.2C1323.5 611.2 1323.8 612.2 1324.2 613.2C1324.5 614.2 1324.8 615.1 1325.1 616.1C1325.4 617.0 1325.7 617.9 1326.0 618.8C1326.3 619.7 1326.7 620.6 1327.0 621.5C1327.3 622.3 1327.7 623.2 1328.0 624.1C1328.3 625.0 1328.7 625.9 1329.0 626.8C1329.3 627.7 1329.6 628.6 1329.9 629.5C1330.2 630.5 1330.4 631.4 1330.7 632.4C1330.9 633.3 1331.2 634.3 1331.4 635.3C1331.6 636.3 1331.8 637.3 1332.0 638.2C1332.3 639.2 1332.5 640.2 1332.6 641.2C1332.8 642.3 1333.0 643.3 1333.2 644.3C1333.4 645.3 1333.6 646.3 1333.7 647.3C1333.9 648.4 1334.1 649.4 1334.2 650.4C1334.4 651.4 1334.5 652.4 1334.7 653.5C1334.8 654.5 1335.0 655.5 1335.1 656.5C1335.3 657.5 1335.4 658.5 1335.5 659.5C1335.7 660.5 1335.8 661.5 1335.9 662.5C1336.0 663.4 1336.2 664.4 1336.3 665.4C1336.5 666.3 1336.6 667.2 1336.7 668.2C1336.8 669.1 1336.9 670.0 1336.9 670.9C1337.0 671.8 1337.0 672.7 1336.9 673.6C1336.9 674.5 1336.8 675.5 1336.7 676.4C1336.6 677.4 1336.5 678.4 1336.4 679.4C1336.2 680.4 1336.1 681.4 1335.9 682.5C1335.8 683.5 1335.6 684.5 1335.5 685.5C1335.4 686.5 1335.3 687.5 1335.2 688.5C1335.1 689.4 1335.0 690.4 1334.9 691.3C1334.8 692.2 1334.7 693.1 1334.6 694.1C1334.5 695.0 1334.3 696.0 1334.2 696.9C1334.1 697.9 1334.0 699.0 1334.2 699.9C1334.4 700.8 1334.8 701.7 1335.3 702.4C1335.9 703.1 1336.7 703.7 1337.5 704.1C1338.3 704.5 1339.1 704.7 1339.9 704.9C1340.7 705.2 1341.5 705.3 1342.3 705.6C1343.1 705.8 1343.9 706.1 1344.8 706.4C1345.6 706.7 1346.5 707.1 1347.4 707.5C1348.3 707.9 1349.2 708.4 1350.2 708.8C1351.2 709.2 1352.2 709.5 1353.2 709.9C1354.2 710.3 1355.3 710.6 1356.3 711.0C1357.3 711.3 1358.3 711.7 1359.3 712.0C1360.3 712.4 1361.3 712.8 1362.3 713.1C1363.3 713.4 1364.2 713.8 1365.1 714.0C1366.1 714.3 1366.9 714.4 1367.9 714.5C1368.8 714.5 1369.7 714.4 1370.7 714.3C1371.6 714.1 1372.6 713.8 1373.5 713.5C1374.4 713.2 1375.3 712.9 1376.2 712.4C1377.0 711.9 1377.8 711.4 1378.5 710.8C1379.2 710.1 1379.9 709.3 1380.4 708.5C1380.9 707.7 1381.2 706.9 1381.6 706.0C1381.9 705.1 1382.1 704.2 1382.3 703.3C1382.5 702.3 1382.7 701.2 1382.9 700.5C1383.0 699.7 1383.1 699.3 1383.2 698.5C1383.3 697.7 1383.4 696.5 1383.5 695.5C1383.6 694.5 1383.7 693.5 1383.7 692.5C1383.8 691.5 1383.8 690.4 1383.7 689.4C1383.7 688.4 1383.6 687.4 1383.6 686.4C1383.5 685.4 1383.4 684.4 1383.4 683.4C1383.3 682.3 1383.2 681.4 1383.1 680.4C1383.0 679.4 1382.9 678.4 1382.8 677.4C1382.8 676.4 1382.7 675.4 1382.6 674.5C1382.5 673.5 1382.4 672.5 1382.3 671.5C1382.2 670.5 1382.1 669.5 1382.0 668.5C1381.9 667.5 1381.8 666.5 1381.7 665.6C1381.6 664.6 1381.5 663.6 1381.4 662.5C1381.4 661.5 1381.3 660.5 1381.2 659.5C1381.1 658.5 1381.0 657.5 1380.9 656.5C1380.9 655.5 1380.8 654.4 1380.7 653.4C1380.7 652.4 1380.6 651.4 1380.6 650.4C1380.5 649.4 1380.5 648.3 1380.5 647.3C1380.5 646.3 1380.5 645.3 1380.4 644.3C1380.4 643.2 1380.4 642.2 1380.4 641.2C1380.4 640.1 1380.4 639.1 1380.4 638.0C1380.4 637.0 1380.4 635.9 1380.3 634.9C1380.3 633.9 1380.3 632.8 1380.3 631.8C1380.2 630.7 1380.2 629.7 1380.1 628.7C1380.1 627.7 1380.1 626.6 1380.0 625.6C1380.0 624.6 1379.9 623.6 1379.9 622.5C1379.8 621.5 1379.8 620.5 1379.7 619.5C1379.7 618.5 1379.6 617.5 1379.6 616.4C1379.6 615.4 1379.5 614.4 1379.5 613.4C1379.4 612.4 1379.4 611.4 1379.3 610.4C1379.3 609.3 1379.2 608.3 1379.2 607.3C1379.1 606.3 1379.1 605.3 1379.0 604.3C1379.0 603.3 1378.9 602.3 1378.9 601.3C1378.8 600.3 1378.8 599.3 1378.7 598.3C1378.7 597.3 1378.6 596.3 1378.5 595.3C1378.5 594.3 1378.4 593.3 1378.4 592.3C1378.3 591.3 1378.3 590.3 1378.2 589.3C1378.1 588.3 1378.1 587.3 1378.0 586.3C1377.9 585.3 1377.9 584.3 1377.8 583.3C1377.7 582.2 1377.7 581.2 1377.6 580.2C1377.5 579.2 1377.4 578.2 1377.4 577.2C1377.3 576.2 1377.2 575.2 1377.1 574.2C1377.0 573.2 1377.0 572.2 1376.9 571.2C1376.8 570.2 1376.7 569.3 1376.6 568.3C1376.6 567.3 1376.5 566.3 1376.4 565.4C1376.3 564.4 1376.2 563.4 1376.1 562.4C1376.0 561.4 1375.9 560.4 1375.8 559.5C1375.7 558.5 1375.6 557.5 1375.5 556.5C1375.4 555.5 1375.3 554.5 1375.2 553.5C1375.1 552.5 1375.0 551.5 1374.9 550.5C1374.8 549.5 1374.7 548.5 1374.5 547.5C1374.4 546.5 1374.3 545.5 1374.2 544.5C1374.1 543.6 1373.9 542.6 1373.8 541.6C1373.7 540.6 1373.6 539.6 1373.4 538.6C1373.3 537.6 1373.2 536.6 1373.1 535.6C1373.0 534.6 1372.8 533.6 1372.7 532.6C1372.6 531.6 1372.5 530.6 1372.4 529.6C1372.2 528.7 1372.1 527.7 1372.0 526.7C1371.9 525.7 1371.8 524.7 1371.7 523.7C1371.6 522.7 1371.5 521.7 1371.4 520.7C1371.3 519.7 1371.3 518.7 1371.2 517.7C1371.1 516.7 1371.0 515.8 1370.9 514.8C1370.9 513.8 1370.8 512.8 1370.7 511.8C1370.7 510.8 1370.6 509.8 1370.5 508.8C1370.5 507.8 1370.4 506.8 1370.4 505.8C1370.3 504.8 1370.2 503.8 1370.2 502.8C1370.1 501.8 1370.0 500.9 1370.0 499.9C1369.9 498.9 1369.8 497.9 1369.8 496.9C1369.7 495.9 1369.6 494.9 1369.5 493.9C1369.5 492.9 1369.4 491.9 1369.3 490.9C1369.2 489.9 1369.1 488.9 1369.0 487.9C1368.9 486.9 1368.8 485.9 1368.7 484.9C1368.6 483.9 1368.5 482.9 1368.4 481.9C1368.3 480.9 1368.2 479.8 1368.1 478.8C1368.0 477.8 1367.9 476.8 1367.7 475.8C1367.6 474.8 1367.5 473.8 1367.4 472.8C1367.3 471.8 1367.2 470.8 1367.1 469.8C1366.9 468.8 1366.8 467.8 1366.7 466.7C1366.6 465.7 1366.5 464.7 1366.4 463.7C1366.3 462.7 1366.2 461.7 1366.1 460.7C1366.0 459.7 1365.9 458.7 1365.8 457.7C1365.7 456.6 1365.6 455.6 1365.5 454.6C1365.4 453.6 1365.3 452.6 1365.2 451.6C1365.1 450.6 1365.0 449.6 1364.9 448.6C1364.8 447.6 1364.7 446.6 1364.6 445.5C1364.5 444.5 1364.4 443.5 1364.3 442.5C1364.2 441.5 1364.0 440.5 1363.9 439.5C1363.8 438.5 1363.7 437.5 1363.6 436.5C1363.5 435.5 1363.4 434.5 1363.2 433.4C1363.1 432.4 1363.0 431.4 1362.9 430.4C1362.8 429.4 1362.6 428.4 1362.5 427.4C1362.4 426.4 1362.2 425.4 1362.1 424.4C1362.0 423.4 1361.8 422.4 1361.7 421.3C1361.5 420.3 1361.4 419.3 1361.3 418.3C1361.1 417.3 1361.0 416.2 1360.8 415.2C1360.7 414.2 1360.6 413.2 1360.4 412.2C1360.3 411.2 1360.2 410.1 1360.1 409.1C1360.0 408.1 1359.8 407.1 1359.7 406.1C1359.6 405.1 1359.5 404.1 1359.4 403.1C1359.3 402.1 1359.2 401.1 1359.1 400.1C1359.0 399.1 1358.9 398.1 1358.8 397.1C1358.7 396.1 1358.6 395.2 1358.6 394.2C1358.5 393.2 1358.4 392.2 1358.3 391.2C1358.2 390.3 1358.1 389.3 1358.1 388.3C1358.0 387.3 1357.9 386.4 1357.8 385.4C1357.7 384.4 1357.7 383.4 1357.6 382.5C1357.5 381.5 1357.4 380.5 1357.3 379.5C1357.2 378.5 1357.1 377.5 1357.0 376.5C1356.9 375.6 1356.8 374.6 1356.7 373.6C1356.6 372.6 1356.5 371.6 1356.4 370.6C1356.2 369.6 1356.1 368.6 1356.0 367.6C1355.8 366.6 1355.7 365.6 1355.5 364.6C1355.4 363.6 1355.2 362.6 1355.1 361.5C1354.9 360.5 1354.7 359.5 1354.6 358.5C1354.4 357.5 1354.2 356.4 1354.1 355.4C1353.9 354.4 1353.7 353.4 1353.6 352.4C1353.4 351.4 1353.2 350.3 1353.0 349.3C1352.9 348.3 1352.7 347.3 1352.5 346.3C1352.3 345.3 1352.1 344.3 1351.8 343.3C1351.6 342.3 1351.4 341.3 1351.2 340.3C1351.0 339.3 1350.7 338.3 1350.5 337.3C1350.3 336.3 1350.1 335.3 1349.8 334.3C1349.6 333.3 1349.3 332.3 1349.1 331.3C1348.8 330.3 1348.6 329.3 1348.3 328.3C1348.1 327.3 1347.8 326.4 1347.5 325.4C1347.3 324.4 1347.0 323.4 1346.7 322.4C1346.4 321.4 1346.2 320.5 1345.9 319.5C1345.6 318.5 1345.3 317.5 1345.0 316.6C1344.7 315.6 1344.4 314.7 1344.1 313.7C1343.8 312.7 1343.5 311.6 1343.2 310.9C1342.9 310.1 1342.8 309.8 1342.6 309.0C1342.3 308.2 1341.9 307.1 1341.6 306.2C1341.2 305.3 1340.9 304.4 1340.5 303.5C1340.2 302.5 1339.8 301.6 1339.5 300.7C1339.1 299.8 1338.7 298.9 1338.3 298.0C1337.9 297.1 1337.5 296.2 1337.1 295.3C1336.7 294.4 1336.3 293.5 1335.9 292.6C1335.5 291.7 1335.1 290.8 1334.6 289.9C1334.2 289.0 1333.8 288.1 1333.3 287.2C1332.9 286.3 1332.5 285.4 1332.0 284.5C1331.6 283.6 1331.1 282.7 1330.7 281.8C1330.2 280.9 1329.7 280.0 1329.2 279.1C1328.8 278.2 1328.3 277.3 1327.8 276.4C1327.3 275.5 1326.8 274.6 1326.3 273.7C1325.8 272.8 1325.3 271.9 1324.8 271.1C1324.2 270.2 1323.7 269.3 1323.2 268.4C1322.6 267.6 1322.1 266.7 1321.5 265.9C1320.9 265.1 1320.3 264.2 1319.8 263.4C1319.2 262.6 1318.6 261.8 1318.0 261.0C1317.4 260.2 1316.8 259.4 1316.1 258.6C1315.5 257.8 1314.9 257.1 1314.2 256.3C1313.6 255.5 1312.9 254.8 1312.2 254.1C1311.6 253.3 1310.9 252.6 1310.2 251.9C1309.5 251.2 1308.8 250.5 1308.1 249.8C1307.4 249.1 1306.7 248.4 1306.0 247.8C1305.3 247.1 1304.5 246.4 1303.8 245.8C1303.1 245.2 1302.3 244.5 1301.5 243.9C1300.8 243.3 1300.0 242.7 1299.2 242.1C1298.4 241.5 1297.6 240.9 1296.8 240.4C1296.0 239.8 1295.2 239.3 1294.3 238.7C1293.5 238.2 1292.6 237.6 1291.7 237.1C1290.9 236.6 1290.0 236.1 1289.1 235.6C1288.2 235.1 1287.4 234.6 1286.5 234.1C1285.6 233.6 1284.7 233.2 1283.8 232.7C1282.9 232.3 1282.0 231.9 1281.1 231.4C1280.1 231.0 1279.2 230.6 1278.3 230.2C1277.4 229.8 1276.5 229.4 1275.6 229.0C1274.6 228.6 1273.7 228.2 1272.8 227.9C1271.9 227.5 1271.0 227.1 1270.0 226.7C1269.1 226.4 1268.2 226.0 1267.3 225.6C1266.4 225.2 1265.5 224.9 1264.6 224.5C1263.7 224.1 1262.8 223.7 1262.0 223.3C1261.1 222.9 1260.2 222.6 1259.3 222.2C1258.4 221.8 1257.5 221.4 1256.7 221.0C1255.8 220.6 1254.9 220.1 1254.0 219.7C1253.1 219.3 1252.3 218.9 1251.4 218.5C1250.5 218.0 1249.6 217.6 1248.7 217.2C1247.7 216.8 1246.8 216.4 1245.9 216.0C1245.0 215.6 1244.0 215.3 1243.1 214.9C1242.1 214.6 1241.2 214.3 1240.2 214.0C1239.2 213.7 1238.3 213.4 1237.3 213.1C1236.3 212.9 1235.3 212.6 1234.3 212.4C1233.3 212.2 1232.3 212.0 1231.3 211.9C1230.3 211.8 1229.2 211.7 1228.2 211.6C1227.2 211.5 1226.1 211.5 1225.1 211.5C1224.0 211.4 1223.0 211.4 1221.9 211.5C1220.9 211.5 1219.8 211.6 1218.7 211.7C1217.7 211.7 1216.6 211.8 1215.6 212.0C1214.5 212.1 1213.5 212.2 1212.4 212.4C1211.4 212.5 1210.3 212.7 1209.3 212.9C1208.2 213.0 1207.2 213.2 1206.1 213.3C1205.1 213.5 1204.1 213.7 1203.0 213.8C1202.0 214.0 1200.9 214.1 1199.9 214.2C1198.9 214.3 1197.8 214.4 1196.8 214.5C1195.8 214.6 1194.7 214.6 1193.7 214.6C1192.7 214.6 1191.3 214.5 1190.8 214.5C1190.6 214.1 1189.9 213.0 1189.6 212.2C1189.3 211.4 1188.9 210.3 1188.8 209.9C1188.6 209.8 1188.1 208.8 1187.7 209.0C1187.3 209.2 1186.8 210.5 1186.6 210.8C1186.9 211.2 1188.0 212.1 1188.5 213.0C1189.0 213.9 1189.7 215.8 1189.9 216.3C1190.0 216.7 1190.1 217.9 1190.2 218.9C1190.4 219.8 1190.6 220.9 1190.7 221.9C1190.9 222.9 1191.0 223.9 1191.2 224.9C1191.3 225.9 1191.5 226.9 1191.6 227.9C1191.7 228.9 1191.9 229.8 1192.0 230.8C1192.1 231.8 1192.2 232.8 1192.3 233.8C1192.4 234.8 1192.5 235.8 1192.6 236.7C1192.7 237.7 1192.8 238.7 1192.9 239.7C1193.0 240.7 1193.1 241.6 1193.2 242.6C1193.3 243.6 1193.4 244.6 1193.5 245.5C1193.6 246.5 1193.6 247.5 1193.7 248.5C1193.8 249.4 1193.9 250.4 1194.0 251.4C1194.1 252.4 1194.2 253.3 1194.3 254.3C1194.4 255.3 1194.5 256.2 1194.6 257.2C1194.7 258.2 1194.8 259.2 1194.9 260.2C1195.0 261.1 1195.1 262.1 1195.2 263.1C1195.3 264.1 1195.4 265.1 1195.6 266.0C1195.7 267.0 1195.8 268.0 1195.9 269.0C1196.0 270.0 1196.2 271.0 1196.3 271.9C1196.4 272.9 1196.5 273.9 1196.7 274.9C1196.8 275.9 1196.9 276.9 1197.1 277.9C1197.2 278.8 1197.3 279.8 1197.5 280.8C1197.6 281.8 1197.8 282.8 1197.9 283.8C1198.1 284.8 1198.2 285.8 1198.4 286.7C1198.5 287.7 1198.7 288.7 1198.8 289.7C1199.0 290.7 1199.2 291.7 1199.3 292.7C1199.5 293.7 1199.7 294.7 1199.8 295.7C1200.0 296.7 1200.2 297.7 1200.4 298.7C1200.5 299.7 1200.7 300.7 1200.9 301.7C1201.0 302.7 1201.2 303.7 1201.4 304.7C1201.6 305.7 1201.7 306.7 1201.9 307.7C1202.1 308.6 1202.2 309.6 1202.4 310.6C1202.6 311.6 1202.7 312.6 1202.9 313.6C1203.1 314.6 1203.2 315.6 1203.4 316.6C1203.5 317.6 1203.7 318.6 1203.9 319.6C1204.0 320.6 1204.2 321.6 1204.3 322.6C1204.5 323.6 1204.6 324.6 1204.8 325.5C1204.9 326.5 1205.1 327.5 1205.2 328.5C1205.4 329.5 1205.5 330.5 1205.7 331.5C1205.9 332.5 1206.0 333.5 1206.2 334.5C1206.4 335.5 1206.5 336.5 1206.7 337.5C1206.9 338.4 1207.0 339.4 1207.2 340.4C1207.4 341.4 1207.5 342.4 1207.7 343.4C1207.9 344.4 1208.0 345.4 1208.2 346.3C1208.4 347.3 1208.6 348.3 1208.7 349.3C1208.9 350.3 1209.1 351.3 1209.3 352.3C1209.5 353.3 1209.6 354.2 1209.8 355.2C1210.0 356.2 1210.2 357.2 1210.4 358.2C1210.6 359.2 1210.8 360.2 1211.0 361.2C1211.2 362.2 1211.4 363.2 1211.6 364.2C1211.8 365.2 1212.0 366.2 1212.2 367.2C1212.4 368.2 1212.6 369.2 1212.8 370.2C1213.0 371.2 1213.2 372.2 1213.4 373.2C1213.6 374.2 1213.8 375.2 1214.0 376.2C1214.2 377.2 1214.4 378.2 1214.6 379.2C1214.8 380.2 1215.0 381.2 1215.3 382.2C1215.5 383.2 1215.7 384.2 1215.9 385.1C1216.1 386.1 1216.3 387.1 1216.5 388.1C1216.8 389.1 1217.0 390.1 1217.2 391.2C1217.4 392.2 1217.6 393.2 1217.9 394.2C1218.1 395.2 1218.3 396.2 1218.5 397.2C1218.7 398.2 1218.9 399.2 1219.2 400.2C1219.4 401.2 1219.6 402.2 1219.8 403.2C1220.1 404.2 1220.3 405.2 1220.5 406.2C1220.7 407.2 1221.0 408.2 1221.2 409.2C1221.4 410.2 1221.7 411.2 1221.9 412.2C1222.1 413.2 1222.4 414.2 1222.6 415.2C1222.9 416.1 1223.1 417.1 1223.4 418.1C1223.6 419.1 1223.9 420.0 1224.1 421.0C1224.4 421.9 1224.7 422.9 1224.9 423.8C1225.2 424.8 1225.5 425.9 1225.7 426.7C1225.9 427.5 1226.0 427.8 1226.2 428.5C1226.4 429.3 1226.7 430.4 1227.0 431.3C1227.3 432.2 1227.6 433.2 1227.8 434.1C1228.1 435.0 1228.4 435.9 1228.7 436.8C1229.0 437.7 1229.2 438.6 1229.5 439.6C1229.8 440.5 1230.1 441.4 1230.4 442.3C1230.7 443.3 1231.0 444.2 1231.4 445.1C1231.7 446.1 1232.0 447.0 1232.3 448.0C1232.6 448.9 1232.9 449.9 1233.2 450.8C1233.6 451.8 1233.9 452.8 1234.2 453.7C1234.5 454.7 1234.9 455.6 1235.2 456.6C1235.5 457.5 1235.9 458.5 1236.2 459.4C1236.5 460.4 1236.9 461.3 1237.2 462.3C1237.5 463.2 1237.9 464.2 1238.2 465.1C1238.5 466.1 1238.9 467.0 1239.2 468.0C1239.6 469.0 1240.0 469.9 1240.3 470.9C1240.6 471.9 1241.0 472.8 1241.3 473.8C1241.7 474.7 1242.0 475.7 1242.3 476.7C1242.6 477.6 1242.9 478.6 1243.2 479.5C1243.5 480.5 1243.8 481.4 1244.0 482.4C1244.3 483.3 1244.6 484.3 1244.8 485.2C1245.1 486.1 1245.3 487.1 1245.6 488.0C1245.8 489.0 1246.0 489.9 1246.3 490.9C1246.5 491.8 1246.7 492.8 1246.9 493.7C1247.2 494.7 1247.4 495.6 1247.6 496.5C1247.8 497.5 1248.0 498.4 1248.2 499.4C1248.5 500.3 1248.7 501.2 1248.9 502.2C1249.1 503.1 1249.3 504.1 1249.6 505.0C1249.8 505.9 1250.0 506.9 1250.2 507.8C1250.5 508.8 1250.7 509.7 1251.0 510.6C1251.2 511.6 1251.5 512.5 1251.7 513.4C1252.0 514.4 1252.2 515.3 1252.5 516.3C1252.7 517.2 1253.0 518.2 1253.2 519.2C1253.5 520.1 1253.8 521.1 1254.0 522.1C1254.3 523.0 1254.5 524.0 1254.8 525.0C1255.1 526.0 1255.3 526.9 1255.6 527.9C1255.9 528.9 1256.1 529.9 1256.4 530.9C1256.6 531.8 1256.8 532.8 1257.1 533.8C1257.3 534.8 1257.5 535.8 1257.8 536.7C1258.0 537.7 1258.2 538.7 1258.5 539.7C1258.7 540.6 1258.9 541.6 1259.2 542.6C1259.5 543.6 1259.7 544.6 1260.0 545.5C1260.3 546.5 1260.5 547.5 1260.8 548.5C1261.1 549.4 1261.4 550.4 1261.7 551.3C1262.0 552.3 1262.3 553.2 1262.6 554.2C1262.9 555.1 1263.2 556.1 1263.5 557.0C1263.9 558.0 1264.2 558.9 1264.5 559.9C1264.8 560.8 1265.2 561.7 1265.5 562.7C1265.9 563.6 1266.2 564.6 1266.6 565.5C1266.9 566.4 1267.3 567.4 1267.6 568.3C1268.0 569.2 1268.3 570.1 1268.7 571.1C1269.1 572.0 1269.4 572.9 1269.8 573.8C1270.1 574.7 1270.5 575.6 1270.8 576.5C1271.1 577.4 1271.4 578.2 1271.8 579.2C1272.1 580.1 1272.4 581.0 1272.7 582.0C1273.0 583.0 1273.4 584.0 1273.7 585.0C1274.1 586.0 1274.4 587.0 1274.8 588.1C1275.2 589.1 1275.6 590.1 1276.1 591.0C1276.5 592.0 1277.0 592.9 1277.4 593.8C1277.9 594.7 1278.4 595.6 1278.8 596.4C1279.3 597.3 1279.8 598.1 1280.3 598.9C1280.8 599.7 1281.3 600.5 1282.0 601.3C1282.6 602.1 1283.2 602.9 1284.0 603.6C1284.7 604.3 1285.5 605.1 1286.4 605.6C1287.3 606.0 1288.4 606.3 1289.4 606.2C1290.4 606.2 1291.4 605.7 1292.3 605.2C1293.1 604.7 1293.8 603.8 1294.5 603.1C1295.2 602.4 1295.9 601.7 1296.6 601.1C1297.3 600.4 1298.1 599.9 1298.8 599.3C1299.6 598.7 1300.4 598.2 1301.2 597.6C1302.0 597.0 1302.7 596.3 1303.6 595.8C1304.4 595.4 1305.8 595.1 1306.3 594.9" stroke="#E24A33" fill="none" stroke-width="3.8" stroke-linejoin="round" stroke-linecap="butt"/>
<path d="M1298.5 684.4C1298.9 684.5 1300.3 685.0 1301.2 685.2C1302.1 685.5 1303.0 685.7 1304.0 685.8C1305.0 685.9 1306.0 686.0 1307.0 686.0C1308.0 686.1 1309.0 686.1 1310.0 686.2C1311.0 686.3 1311.9 686.4 1312.9 686.6C1313.8 686.8 1314.8 687.1 1315.6 687.3C1316.4 687.5 1316.7 687.6 1317.4 687.8C1318.2 688.0 1319.3 688.4 1320.3 688.6C1321.3 688.9 1322.3 689.2 1323.3 689.5C1324.3 689.9 1325.3 690.2 1326.3 690.7C1327.3 691.1 1328.3 691.6 1329.3 692.1C1330.2 692.6 1331.0 693.1 1331.8 693.7C1332.6 694.3 1333.3 694.9 1334.0 695.6C1334.6 696.3 1335.3 697.4 1335.6 697.8C1336.0 698.1 1337.1 699.0 1338.0 699.4C1338.8 699.8 1340.0 699.9 1341.0 700.1C1342.0 700.3 1343.0 700.4 1344.0 700.6C1344.9 700.8 1345.9 701.1 1346.8 701.3C1347.7 701.6 1348.6 702.0 1349.4 702.4C1350.3 702.8 1351.1 703.3 1352.0 703.8C1352.8 704.3 1353.7 705.0 1354.5 705.6C1355.3 706.2 1356.1 706.8 1356.9 707.5C1357.6 708.1 1358.2 708.6 1358.9 709.3C1359.6 709.9 1360.3 710.6 1361.1 711.2C1361.9 711.7 1362.8 712.4 1363.7 712.8C1364.6 713.1 1365.6 713.4 1366.5 713.3C1367.3 713.3 1368.2 712.8 1368.9 712.3C1369.6 711.8 1370.1 711.0 1370.6 710.2C1371.1 709.4 1371.4 708.5 1371.8 707.7C1372.1 706.8 1372.4 706.0 1372.8 705.1C1373.1 704.2 1373.4 703.2 1373.6 702.2C1373.9 701.2 1374.1 700.1 1374.3 699.1C1374.5 698.0 1374.6 696.8 1374.8 695.7C1374.9 694.6 1375.0 693.3 1375.2 692.3C1375.3 691.3 1375.5 690.5 1375.7 689.6C1376.0 688.8 1376.5 687.5 1376.6 687.1C1376.9 686.8 1378.0 685.4 1378.3 685.0C1378.5 684.5 1379.0 683.0 1379.3 682.0C1379.6 681.0 1379.8 680.1 1380.0 679.2C1380.2 678.3 1380.4 677.4 1380.6 676.4C1380.7 675.5 1380.9 674.6 1381.0 673.7C1381.1 672.8 1381.2 671.8 1381.3 670.9C1381.4 670.0 1381.5 669.1 1381.6 668.1C1381.7 667.2 1381.7 666.2 1381.8 665.3C1381.9 664.3 1381.9 663.3 1382.0 662.4C1382.0 661.4 1382.1 660.4 1382.1 659.4C1382.2 658.4 1382.2 657.4 1382.3 656.4C1382.3 655.4 1382.3 654.4 1382.4 653.4C1382.4 652.4 1382.4 651.3 1382.5 650.3C1382.5 649.3 1382.5 648.2 1382.6 647.2C1382.6 646.2 1382.6 645.1 1382.6 644.1C1382.6 643.1 1382.6 642.0 1382.6 641.0C1382.6 639.9 1382.6 638.9 1382.6 637.8C1382.6 636.8 1382.5 635.7 1382.5 634.7C1382.5 633.7 1382.4 632.5 1382.4 631.6C1382.4 630.8 1382.4 630.5 1382.3 629.6C1382.3 628.8 1382.2 627.6 1382.2 626.6C1382.2 625.6 1382.1 624.6 1382.1 623.6C1382.0 622.5 1382.0 621.6 1381.9 620.5C1381.9 619.5 1381.8 618.5 1381.8 617.5C1381.7 616.5 1381.7 615.4 1381.6 614.4C1381.6 613.4 1381.6 612.3 1381.5 611.3C1381.5 610.3 1381.4 609.3 1381.4 608.2C1381.4 607.2 1381.3 606.2 1381.3 605.2C1381.2 604.1 1381.2 603.1 1381.1 602.1C1381.1 601.1 1381.1 600.1 1381.0 599.0C1381.0 598.0 1380.9 597.0 1380.9 596.0C1380.8 595.0 1380.8 594.0 1380.7 593.0C1380.6 592.0 1380.6 591.0 1380.5 589.9C1380.4 588.9 1380.4 587.9 1380.3 586.9C1380.2 585.9 1380.2 584.9 1380.1 583.9C1380.0 582.8 1379.9 581.8 1379.8 580.8C1379.8 579.8 1379.7 578.8 1379.6 577.7C1379.5 576.7 1379.4 575.7 1379.3 574.7C1379.2 573.7 1379.1 572.6 1379.0 571.6C1378.9 570.6 1378.8 569.6 1378.7 568.6C1378.6 567.6 1378.5 566.6 1378.4 565.6C1378.3 564.6 1378.2 563.6 1378.1 562.6C1378.0 561.6 1377.9 560.6 1377.7 559.6C1377.6 558.6 1377.5 557.6 1377.4 556.6C1377.3 555.5 1377.1 554.5 1377.0 553.5C1376.9 552.5 1376.7 551.5 1376.6 550.5C1376.5 549.5 1376.3 548.5 1376.2 547.5C1376.0 546.5 1375.9 545.5 1375.7 544.5C1375.6 543.5 1375.4 542.5 1375.3 541.5C1375.1 540.4 1375.0 539.4 1374.8 538.4C1374.6 537.4 1374.5 536.4 1374.3 535.4C1374.1 534.4 1373.9 533.4 1373.8 532.3C1373.6 531.3 1373.4 530.3 1373.2 529.3C1373.0 528.3 1372.8 527.2 1372.6 526.2C1372.5 525.2 1372.3 524.2 1372.1 523.2C1371.9 522.1 1371.7 521.1 1371.5 520.1C1371.3 519.1 1371.1 518.1 1371.0 517.1C1370.8 516.1 1370.6 514.9 1370.4 514.1C1370.3 513.2 1370.2 512.9 1370.1 512.1C1369.9 511.2 1369.7 510.1 1369.6 509.1C1369.4 508.1 1369.2 507.1 1369.1 506.1C1368.9 505.1 1368.8 504.1 1368.6 503.1C1368.4 502.2 1368.3 501.2 1368.1 500.2C1368.0 499.2 1367.8 498.3 1367.7 497.3C1367.5 496.3 1367.3 495.4 1367.2 494.4C1367.0 493.4 1366.9 492.4 1366.7 491.4C1366.6 490.5 1366.4 489.5 1366.2 488.5C1366.1 487.5 1365.9 486.5 1365.7 485.5C1365.5 484.5 1365.4 483.5 1365.2 482.5C1365.0 481.4 1364.8 480.4 1364.6 479.4C1364.4 478.3 1364.2 477.3 1364.0 476.3C1363.8 475.2 1363.6 474.2 1363.4 473.1C1363.2 472.1 1362.9 471.1 1362.7 470.0C1362.5 469.0 1362.3 467.9 1362.1 466.9C1361.9 465.9 1361.6 464.9 1361.4 463.9C1361.2 462.9 1361.0 461.8 1360.8 460.9C1360.6 460.0 1360.4 458.9 1360.3 458.5C1359.8 457.1 1358.0 451.6 1357.6 450.2C1357.5 449.8 1357.3 448.7 1357.2 447.8C1357.0 446.8 1356.9 445.7 1356.7 444.7C1356.6 443.7 1356.5 442.7 1356.3 441.7C1356.2 440.7 1356.1 439.7 1356.0 438.6C1355.9 437.6 1355.8 436.6 1355.7 435.6C1355.6 434.6 1355.6 433.5 1355.5 432.5C1355.4 431.5 1355.3 430.5 1355.2 429.5C1355.2 428.4 1355.1 427.4 1355.0 426.4C1354.9 425.4 1354.8 424.4 1354.8 423.3C1354.7 422.3 1354.6 421.3 1354.5 420.3C1354.4 419.3 1354.4 418.3 1354.3 417.2C1354.2 416.2 1354.1 415.2 1354.0 414.2C1353.9 413.2 1353.8 412.2 1353.8 411.2C1353.7 410.2 1353.6 409.2 1353.5 408.2C1353.4 407.2 1353.3 406.2 1353.2 405.2C1353.1 404.2 1353.0 403.2 1352.9 402.2C1352.9 401.1 1352.8 400.2 1352.7 399.2C1352.6 398.2 1352.5 397.2 1352.4 396.2C1352.4 395.2 1352.3 394.2 1352.2 393.2C1352.1 392.2 1352.1 391.2 1352.0 390.2C1351.9 389.2 1351.9 388.2 1351.8 387.2C1351.7 386.2 1351.7 385.2 1351.6 384.2C1351.5 383.2 1351.5 382.2 1351.4 381.2C1351.4 380.2 1351.3 379.2 1351.2 378.2C1351.2 377.2 1351.1 376.2 1351.1 375.2C1351.0 374.2 1350.9 373.2 1350.9 372.2C1350.8 371.2 1350.7 370.2 1350.7 369.2C1350.6 368.2 1350.5 367.2 1350.5 366.2C1350.4 365.2 1350.3 364.2 1350.3 363.2C1350.2 362.2 1350.1 361.2 1350.0 360.2C1350.0 359.2 1349.9 358.2 1349.8 357.2C1349.7 356.2 1349.7 355.2 1349.6 354.2C1349.5 353.3 1349.4 352.3 1349.4 351.3C1349.3 350.3 1349.2 349.3 1349.1 348.3C1349.1 347.3 1349.0 346.3 1348.9 345.4C1348.8 344.4 1348.8 343.4 1348.7 342.4C1348.6 341.4 1348.5 340.4 1348.5 339.4C1348.4 338.5 1348.3 337.5 1348.2 336.5C1348.2 335.5 1348.1 334.5 1348.0 333.5C1347.9 332.5 1347.8 331.5 1347.8 330.5C1347.7 329.5 1347.6 328.5 1347.5 327.5C1347.4 326.5 1347.3 325.5 1347.2 324.5C1347.2 323.5 1347.1 322.5 1347.0 321.5C1346.9 320.6 1346.8 319.6 1346.7 318.6C1346.6 317.6 1346.5 316.6 1346.4 315.6C1346.3 314.6 1346.2 313.6 1346.1 312.6C1346.0 311.7 1345.9 310.7 1345.8 309.7C1345.7 308.7 1345.6 307.7 1345.5 306.7C1345.4 305.7 1345.3 304.8 1345.2 303.8C1345.1 302.8 1345.0 301.8 1344.9 300.8C1344.8 299.8 1344.7 298.8 1344.6 297.8C1344.5 296.8 1344.4 295.8 1344.3 294.8C1344.2 293.8 1344.1 292.8 1344.0 291.8C1343.9 290.8 1343.8 289.8 1343.7 288.8C1343.6 287.8 1343.5 286.8 1343.3 285.8C1343.2 284.8 1343.1 283.8 1343.0 282.8C1342.9 281.8 1342.8 280.8 1342.7 279.9C1342.6 278.9 1342.4 277.9 1342.3 277.0C1342.2 276.0 1342.1 275.0 1342.0 274.1C1341.8 273.1 1341.7 272.2 1341.6 271.2C1341.5 270.3 1341.3 269.3 1341.2 268.3C1341.1 267.4 1340.9 266.4 1340.8 265.5C1340.6 264.5 1340.5 263.6 1340.3 262.6C1340.2 261.7 1340.1 260.7 1339.9 259.8C1339.7 258.8 1339.6 257.9 1339.4 256.9C1339.3 255.9 1339.1 255.0 1338.9 254.0C1338.7 253.1 1338.6 252.1 1338.4 251.1C1338.2 250.2 1338.0 249.2 1337.8 248.2C1337.6 247.3 1337.4 246.3 1337.2 245.3C1337.0 244.3 1336.7 243.4 1336.5 242.4C1336.3 241.4 1336.0 240.5 1335.8 239.5C1335.5 238.6 1335.2 237.6 1334.9 236.7C1334.6 235.7 1334.3 234.8 1334.0 233.8C1333.6 232.9 1333.3 232.0 1332.9 231.1C1332.6 230.2 1332.2 229.4 1331.8 228.5C1331.4 227.6 1330.9 226.8 1330.5 225.9C1330.0 225.1 1329.5 224.3 1329.0 223.5C1328.5 222.7 1327.9 222.0 1327.3 221.2C1326.7 220.5 1326.1 219.8 1325.5 219.1C1324.8 218.4 1324.1 217.8 1323.4 217.1C1322.7 216.5 1321.9 215.9 1321.1 215.4C1320.3 214.8 1319.5 214.3 1318.7 213.8C1317.8 213.4 1316.9 212.9 1316.0 212.5C1315.1 212.1 1314.2 211.8 1313.3 211.5C1312.3 211.2 1311.3 210.9 1310.3 210.6C1309.4 210.4 1308.4 210.2 1307.3 210.0C1306.3 209.8 1305.3 209.6 1304.2 209.5C1303.2 209.4 1302.2 209.3 1301.1 209.2C1300.1 209.1 1299.0 209.1 1297.9 209.0C1296.9 209.0 1295.8 209.0 1294.7 209.0C1293.7 209.0 1292.6 209.0 1291.6 209.0C1290.5 209.0 1289.3 209.1 1288.4 209.1C1287.5 209.1 1287.2 209.1 1286.3 209.2C1285.4 209.2 1284.2 209.3 1283.2 209.3C1282.1 209.4 1281.1 209.5 1280.0 209.5C1279.0 209.6 1278.0 209.7 1276.9 209.7C1275.9 209.8 1274.9 209.8 1273.8 209.9C1272.8 209.9 1271.8 210.0 1270.7 210.0C1269.7 210.1 1268.6 210.1 1267.6 210.1C1266.6 210.2 1265.5 210.2 1264.5 210.2C1263.4 210.2 1262.4 210.2 1261.4 210.2C1260.3 210.2 1259.3 210.2 1258.2 210.2C1257.2 210.2 1256.2 210.2 1255.1 210.1C1254.1 210.1 1253.1 210.1 1252.0 210.1C1251.0 210.0 1250.0 210.0 1248.9 209.9C1247.9 209.9 1246.9 209.9 1245.8 209.8C1244.8 209.8 1243.7 209.7 1242.7 209.6C1241.6 209.6 1240.6 209.5 1239.5 209.5C1238.5 209.4 1237.4 209.3 1236.4 209.3C1235.3 209.2 1234.3 209.2 1233.2 209.1C1232.1 209.1 1231.1 209.0 1230.0 209.0C1229.0 208.9 1227.9 208.9 1226.8 208.9C1225.8 208.9 1224.7 208.9 1223.7 209.0C1222.6 209.0 1221.6 209.1 1220.5 209.2C1219.5 209.3 1218.5 209.5 1217.5 209.6C1216.5 209.8 1215.5 210.0 1214.5 210.3C1213.5 210.5 1212.5 210.8 1211.6 211.1C1210.7 211.4 1209.7 211.8 1208.8 212.2C1207.9 212.6 1207.1 213.0 1206.2 213.5C1205.4 214.0 1204.5 214.5 1203.7 215.1C1202.9 215.6 1202.2 216.2 1201.4 216.9C1200.7 217.5 1200.0 218.2 1199.3 218.9C1198.6 219.6 1198.0 220.3 1197.3 221.1C1196.7 221.8 1196.1 222.6 1195.5 223.4C1195.0 224.2 1194.4 225.0 1193.9 225.9C1193.4 226.7 1192.9 227.6 1192.4 228.5C1192.0 229.4 1191.5 230.3 1191.1 231.1C1190.7 232.0 1190.4 232.9 1190.0 233.9C1189.7 234.8 1189.4 235.7 1189.1 236.6C1188.8 237.6 1188.6 238.5 1188.3 239.5C1188.1 240.4 1187.9 241.4 1187.8 242.4C1187.6 243.4 1187.4 244.4 1187.3 245.4C1187.2 246.4 1187.1 247.4 1187.0 248.4C1186.9 249.4 1186.8 250.4 1186.7 251.4C1186.7 252.4 1186.6 253.4 1186.6 254.4C1186.6 255.3 1186.6 256.3 1186.5 257.3C1186.5 258.3 1186.5 259.2 1186.5 260.2C1186.6 261.1 1186.6 262.1 1186.6 263.0C1186.6 264.0 1186.7 265.0 1186.7 265.9C1186.7 266.9 1186.8 267.9 1186.8 268.8C1186.9 269.8 1186.9 270.8 1187.0 271.8C1187.0 272.7 1187.1 273.7 1187.2 274.7C1187.2 275.7 1187.3 276.7 1187.4 277.7C1187.5 278.7 1187.5 279.7 1187.6 280.7C1187.7 281.7 1187.8 282.7 1187.9 283.7C1188.0 284.7 1188.0 285.7 1188.1 286.7C1188.2 287.7 1188.3 288.7 1188.4 289.7C1188.5 290.7 1188.6 291.7 1188.6 292.7C1188.7 293.7 1188.8 294.7 1188.9 295.7C1189.0 296.8 1189.0 297.8 1189.1 298.8C1189.2 299.8 1189.3 300.8 1189.3 301.8C1189.4 302.8 1189.4 303.8 1189.5 304.8C1189.5 305.8 1189.6 306.8 1189.6 307.8C1189.7 308.8 1189.7 309.7 1189.7 310.7C1189.8 311.7 1189.8 312.7 1189.9 313.6C1189.9 314.6 1190.0 315.6 1190.0 316.6C1190.0 317.6 1190.1 318.5 1190.1 319.5C1190.2 320.5 1190.2 321.5 1190.3 322.5C1190.3 323.5 1190.4 324.5 1190.4 325.5C1190.5 326.5 1190.5 327.5 1190.6 328.5C1190.6 329.5 1190.7 330.5 1190.7 331.5C1190.8 332.5 1190.8 333.5 1190.9 334.5C1190.9 335.5 1191.0 336.5 1191.0 337.5C1191.1 338.5 1191.1 339.4 1191.2 340.4C1191.2 341.4 1191.3 342.4 1191.3 343.4C1191.4 344.4 1191.5 345.4 1191.5 346.3C1191.6 347.3 1191.6 348.3 1191.7 349.3C1191.8 350.3 1191.8 351.3 1191.9 352.3C1192.0 353.3 1192.0 354.2 1192.1 355.2C1192.2 356.2 1192.2 357.2 1192.3 358.2C1192.4 359.2 1192.5 360.2 1192.5 361.2C1192.6 362.2 1192.7 363.2 1192.8 364.2C1192.9 365.2 1192.9 366.2 1193.0 367.1C1193.1 368.1 1193.2 369.1 1193.3 370.1C1193.4 371.1 1193.5 372.1 1193.6 373.1C1193.7 374.1 1193.8 375.1 1193.8 376.2C1193.9 377.2 1194.0 378.2 1194.1 379.2C1194.2 380.2 1194.4 381.2 1194.5 382.2C1194.6 383.2 1194.7 384.2 1194.8 385.2C1194.9 386.2 1195.0 387.2 1195.1 388.2C1195.2 389.3 1195.3 390.3 1195.4 391.3C1195.5 392.3 1195.6 393.3 1195.8 394.3C1195.9 395.3 1196.0 396.3 1196.1 397.3C1196.2 398.3 1196.3 399.3 1196.4 400.3C1196.5 401.3 1196.6 402.4 1196.7 403.3C1196.8 404.2 1196.9 405.4 1196.9 405.8C1197.7 407.5 1200.7 414.5 1201.5 416.2C1201.6 416.6 1202.0 417.7 1202.2 418.6C1202.5 419.5 1202.8 420.6 1203.0 421.6C1203.3 422.7 1203.5 423.7 1203.8 424.7C1204.0 425.7 1204.3 426.7 1204.5 427.7C1204.8 428.7 1205.0 429.7 1205.3 430.7C1205.5 431.7 1205.8 432.7 1206.0 433.8C1206.3 434.8 1206.6 435.8 1206.8 436.8C1207.1 437.8 1207.4 438.8 1207.7 439.8C1208.0 440.8 1208.3 441.7 1208.6 442.7C1208.9 443.7 1209.2 444.7 1209.5 445.7C1209.8 446.7 1210.2 447.7 1210.5 448.6C1210.8 449.6 1211.1 450.6 1211.5 451.5C1211.8 452.5 1212.2 453.5 1212.5 454.4C1212.9 455.4 1213.2 456.3 1213.6 457.3C1213.9 458.2 1214.3 459.2 1214.6 460.1C1214.9 461.1 1215.3 462.0 1215.6 462.9C1216.0 463.9 1216.3 464.8 1216.7 465.8C1217.1 466.7 1217.4 467.6 1217.8 468.6C1218.1 469.5 1218.5 470.4 1218.9 471.4C1219.2 472.3 1219.6 473.3 1219.9 474.2C1220.3 475.1 1220.7 476.1 1221.0 477.0C1221.4 477.9 1221.7 478.9 1222.0 479.8C1222.4 480.7 1222.7 481.7 1223.1 482.6C1223.4 483.5 1223.7 484.5 1224.1 485.4C1224.4 486.3 1224.7 487.3 1225.0 488.2C1225.4 489.1 1225.7 490.0 1226.0 491.0C1226.4 491.9 1226.7 492.8 1227.0 493.8C1227.3 494.7 1227.7 495.6 1228.0 496.6C1228.3 497.5 1228.7 498.4 1229.0 499.3C1229.4 500.3 1229.7 501.2 1230.1 502.1C1230.4 503.0 1230.7 504.0 1231.1 504.9C1231.5 505.8 1231.8 506.7 1232.2 507.6C1232.5 508.5 1232.9 509.4 1233.3 510.4C1233.7 511.3 1234.0 512.2 1234.4 513.1C1234.8 514.0 1235.2 514.9 1235.6 515.8C1236.0 516.7 1236.4 517.6 1236.8 518.5C1237.2 519.4 1237.6 520.3 1238.0 521.2C1238.5 522.1 1238.9 523.0 1239.3 523.9C1239.7 524.8 1240.1 525.7 1240.5 526.6C1240.9 527.5 1241.4 528.4 1241.8 529.3C1242.2 530.2 1242.6 531.1 1243.0 531.9C1243.4 532.8 1243.8 533.7 1244.1 534.6C1244.5 535.5 1244.9 536.4 1245.3 537.3C1245.7 538.2 1246.1 539.0 1246.5 539.9C1246.9 540.8 1247.2 541.7 1247.6 542.6C1248.0 543.5 1248.4 544.3 1248.8 545.2C1249.2 546.1 1249.6 547.0 1250.0 547.9C1250.4 548.8 1250.8 549.7 1251.2 550.6C1251.6 551.5 1252.0 552.4 1252.4 553.3C1252.8 554.2 1253.2 555.1 1253.6 556.0C1254.0 556.9 1254.4 557.8 1254.8 558.7C1255.2 559.6 1255.7 560.5 1256.1 561.4C1256.5 562.3 1256.9 563.2 1257.3 564.1C1257.7 565.1 1258.1 566.0 1258.5 566.9C1258.9 567.8 1259.3 568.7 1259.7 569.6C1260.1 570.5 1260.5 571.4 1260.9 572.3C1261.3 573.3 1261.6 574.2 1262.0 575.1C1262.4 576.0 1262.8 576.9 1263.2 577.8C1263.5 578.7 1263.9 579.6 1264.2 580.6C1264.6 581.5 1264.9 582.4 1265.2 583.3C1265.6 584.2 1265.9 585.2 1266.2 586.1C1266.5 587.0 1266.8 588.0 1267.1 588.9C1267.4 589.9 1267.7 590.8 1268.0 591.7C1268.3 592.7 1268.6 593.6 1268.8 594.6C1269.1 595.5 1269.4 596.5 1269.7 597.5C1270.0 598.4 1270.3 599.4 1270.6 600.3C1270.8 601.3 1271.1 602.3 1271.4 603.3C1271.7 604.2 1272.0 605.2 1272.3 606.2C1272.7 607.2 1273.0 608.1 1273.3 609.1C1273.6 610.1 1273.9 611.1 1274.2 612.1C1274.6 613.1 1274.9 614.0 1275.2 615.0C1275.6 616.0 1275.9 617.0 1276.2 618.0C1276.6 619.0 1276.9 620.0 1277.2 621.0C1277.6 622.0 1277.9 622.9 1278.2 623.9C1278.6 624.9 1278.9 625.9 1279.2 626.9C1279.5 627.9 1279.9 628.8 1280.2 629.8C1280.5 630.8 1280.8 631.8 1281.1 632.8C1281.4 633.8 1281.7 634.8 1282.0 635.8C1282.3 636.8 1282.6 637.8 1282.8 638.8C1283.1 639.8 1283.4 640.8 1283.7 641.8C1283.9 642.7 1284.2 643.7 1284.4 644.7C1284.7 645.7 1285.0 646.7 1285.2 647.7C1285.5 648.6 1285.7 649.6 1286.0 650.6C1286.3 651.6 1286.6 652.5 1286.8 653.5C1287.1 654.5 1287.4 655.4 1287.7 656.4C1288.0 657.3 1288.3 658.3 1288.7 659.2C1289.0 660.2 1289.3 661.1 1289.7 662.1C1290.0 663.0 1290.4 663.9 1290.8 664.9C1291.2 665.8 1291.6 666.7 1292.1 667.6C1292.5 668.5 1293.0 669.4 1293.4 670.3C1293.9 671.2 1294.4 672.0 1295.0 672.9C1295.5 673.7 1296.1 674.6 1296.7 675.4C1297.3 676.2 1297.9 677.0 1298.6 677.7C1299.2 678.5 1299.9 679.2 1300.7 679.9C1301.4 680.5 1302.2 681.1 1303.0 681.7C1303.8 682.3 1304.6 682.8 1305.4 683.3C1306.2 683.8 1307.4 684.5 1307.8 684.7" stroke="#348ABD" fill="none" stroke-width="3.8" stroke-linejoin="round" stroke-linecap="butt"/>
<rect x="266.3" y="375.3" width="511.1" height="77.3" rx="3.5" ry="3.5" fill="#E5E5E5" fill-opacity="0.8" stroke="#ccc" stroke-opacity="0.8" stroke-width="0.9"/>
<path d="M273.7 394.8H326.0" stroke="#E24A33" stroke-width="3.8" fill="none"/>
<text class="lg" x="343.2" y="403.3">Measured Area = 3430 mm<tspan font-size="29" dx="-5.30" dy="3.6">•</tspan><tspan dx="-4.60" dy="-3.6">mmHg</tspan></text>
<path d="M273.7 430.3H326.0" stroke="#348ABD" stroke-width="3.8" fill="none"/>
<text class="lg" x="343.2" y="438.8">Estimated Area = 3376 mm<tspan font-size="29" dx="-5.80" dy="3.6">•</tspan><tspan dx="-5.00" dy="-3.6">mmHg</tspan></text>
<rect x="1240.3" y="64.2" width="496.0" height="77.5" rx="3.5" ry="3.5" fill="#E5E5E5" fill-opacity="0.8" stroke="#ccc" stroke-opacity="0.8" stroke-width="0.9"/>
<path d="M1248.2 83.8H1300.1" stroke="#E24A33" stroke-width="3.8" fill="none"/>
<text class="lg" x="1317.5" y="92.0">Measured Area = 449 mm<tspan font-size="29" dx="-5.30" dy="2.4">•</tspan><tspan dx="-4.60" dy="-2.4">mmHg</tspan></text>
<path d="M1248.2 119.2H1300.1" stroke="#348ABD" stroke-width="3.8" fill="none"/>
<text class="lg" x="1317.5" y="127.8">Estimated Area = 555 mm<tspan font-size="29" dx="-5.80" dy="3.6">•</tspan><tspan dx="-5.00" dy="-3.6">mmHg</tspan></text>
<text class="tt" x="521.6" y="44.2" text-anchor="middle">(a) Baseline</text>
<text class="tt" x="1344.8" y="44.2" text-anchor="middle">(b) Ischemia</text>
<text class="lb" style="font-size:44.4px" transform="translate(852.3 852.7) scale(0.977 1)" text-anchor="middle">Displacement (mm)</text>
<text class="lb" transform="translate(36.1 413.9) rotate(-90) scale(1.016 0.988)" text-anchor="middle">LV Pressure (mmHg)</text>
</svg>
</body>
</html>
